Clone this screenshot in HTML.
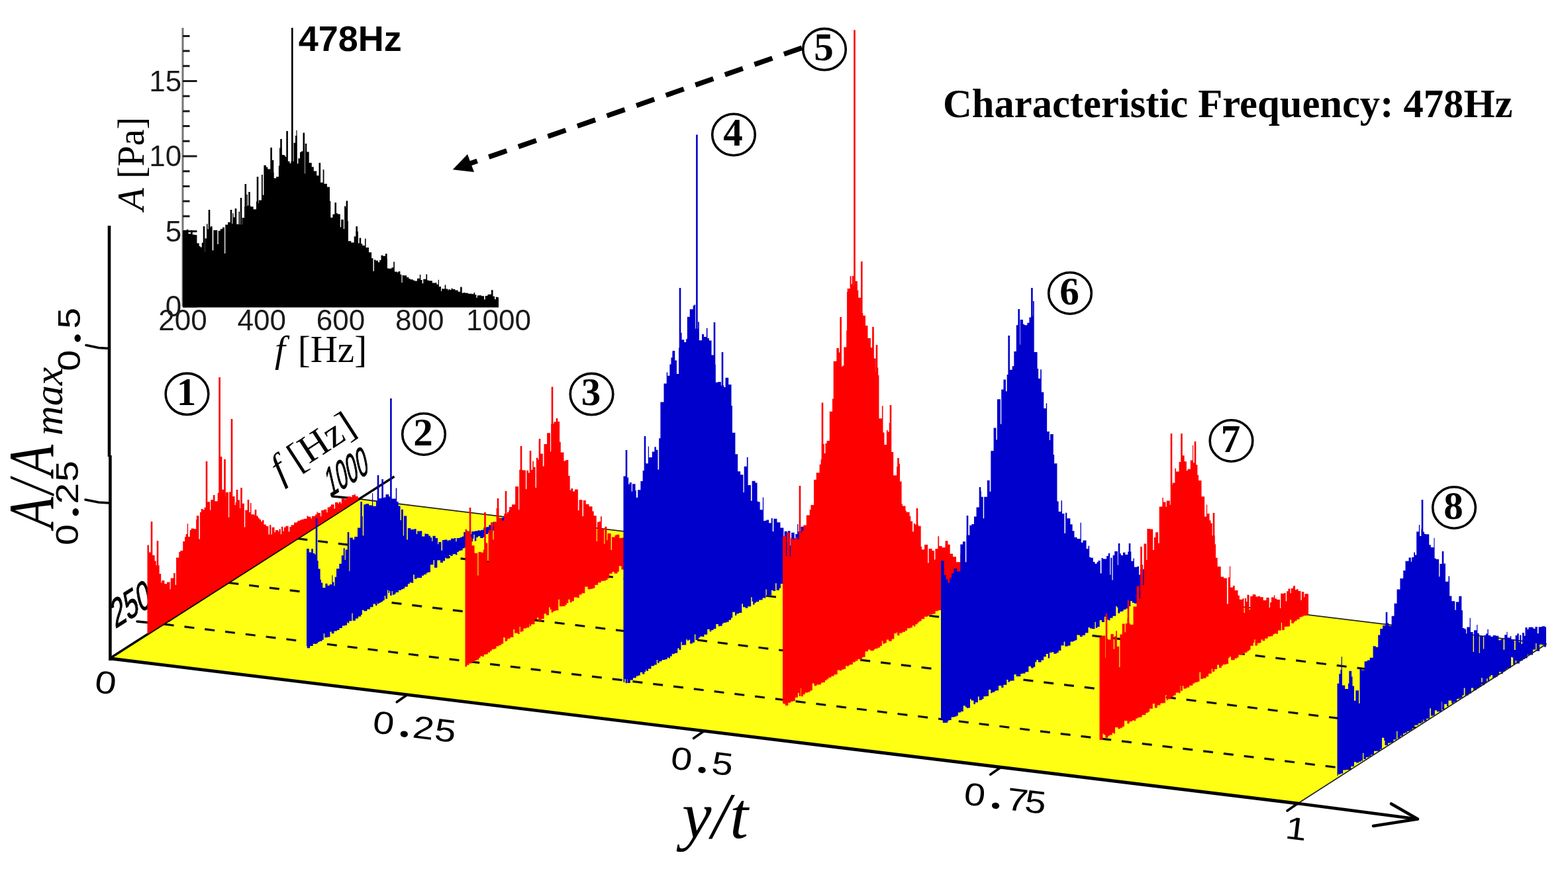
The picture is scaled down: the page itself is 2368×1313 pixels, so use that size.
<!DOCTYPE html>
<html><head><meta charset="utf-8"><title>Characteristic Frequency</title><style>html,body{margin:0;padding:0;background:#fff;}svg{display:block;}</style></head><body>
<svg width="2368" height="1313" viewBox="0 0 2368 1313">
<rect width="2368" height="1313" fill="#fff"/>
<polygon points="167.0,995.0 1960.0,1214.0 2335.5,973 542.5,754.0" fill="#ffff14"/>
<line x1="542.5" y1="754.0" x2="2335.5" y2="973" stroke="#222" stroke-width="1.8"/>
<line x1="247.73" y1="943.18" x2="2040.73" y2="1162.18" stroke="#111" stroke-width="3.2" stroke-dasharray="15 16"/>
<line x1="345.36" y1="880.52" x2="2138.36" y2="1099.53" stroke="#111" stroke-width="3.2" stroke-dasharray="15 16"/>
<line x1="449.38" y1="813.77" x2="2242.38" y2="1032.77" stroke="#111" stroke-width="3.2" stroke-dasharray="15 16"/>
<line x1="167.0" y1="994.0" x2="595.5" y2="720" stroke="#000" stroke-width="3.4"/>
<line x1="247" y1="943" x2="207" y2="939" stroke="#000" stroke-width="3.5" stroke-linecap="round"/>
<line x1="542.5" y1="754" x2="502.5" y2="750" stroke="#000" stroke-width="3.5" stroke-linecap="round"/>
<text transform="matrix(0.80 -0.50 0.40 1.75 498 751.5)" font-family="'Liberation Sans', Arial, sans-serif" font-size="34" fill="#000" stroke="#000" stroke-width="0.6">1000</text>
<text transform="matrix(1.0 -0.63 0.40 1.72 174 950)" font-family="'Liberation Sans', Arial, sans-serif" font-size="34" fill="#000" stroke="#000" stroke-width="0.6">250</text>
<path d="M222.5 958.3 L222.5 823.52 L224.89 823.52 L224.89 834.54 L229.15 834.54 L229.15 839.03 L233.63 839.03 L233.63 847.58 L235.7 847.58 L235.7 854.32 L240.65 854.32 L240.65 867.05 L243.22 867.05 L243.22 880.22 L244.46 880.22 L244.46 877.05 L248.38 877.05 L248.38 882.23 L252.08 882.23 L252.08 879.42 L256.62 879.42 L256.62 890.19 L257.72 890.19 L257.72 873.45 L262.12 873.45 L262.12 866.11 L264.65 866.11 L264.65 883.8 L266.07 883.8 L266.07 842.4 L270.87 842.4 L270.87 870.73 L272.36 870.73 L272.36 831.96 L276.23 831.96 L276.23 818.04 L279.08 818.04 L279.08 811.28 L282.69 811.28 L282.69 791.28 L284.13 791.28 L284.13 810.97 L288.65 810.97 L288.65 798.58 L292.65 798.58 L292.65 799.16 L296.86 799.16 L296.86 779.28 L300.43 779.28 L300.43 814.56 L302 814.56 L302 773.92 L304.45 773.92 L304.45 770.28 L308.63 770.28 L308.63 766.84 L311.25 766.84 L311.25 748.52 L312.78 748.52 L312.78 758.31 L317.1 758.31 L317.1 770.87 L318.28 770.87 L318.28 755.37 L321.88 755.37 L321.88 747.89 L324.47 747.89 L324.47 757.2 L328.67 757.2 L328.67 744.86 L332.7 744.86 L332.7 743.8 L335.14 743.8 L335.14 739.72 L339.85 739.72 L339.85 750.48 L341.02 750.48 L341.02 743.68 L344.99 743.68 L344.99 781.84 L346.14 781.84 L346.14 743.27 L349.34 743.27 L349.34 734.99 L350.76 734.99 L350.76 749.88 L354.53 749.88 L354.53 762.98 L355.74 762.98 L355.74 758.78 L358.98 758.78 L358.98 755.44 L362.18 755.44 L362.18 767.92 L363.78 767.92 L363.78 760.74 L368.89 760.74 L368.89 796.4 L370.2 796.4 L370.2 770.74 L375.3 770.74 L375.3 774.08 L377.96 774.08 L377.96 759.96 L379.51 759.96 L379.51 777.23 L384.16 777.23 L384.16 778.7 L387.21 778.7 L387.21 779.48 L389.72 779.48 L389.72 782.48 L391.71 782.48 L391.71 784.65 L394.09 784.65 L394.09 788.05 L396.02 788.05 L396.02 785.99 L398.5 785.99 L398.5 792.4 L401.85 792.4 L401.85 795.12 L405.53 795.12 L405.53 807.38 L407.07 807.38 L407.07 793.37 L409.42 793.37 L409.42 807.48 L410.73 807.48 L410.73 796.65 L414.51 796.65 L414.51 804.31 L415.88 804.31 L415.88 800.97 L420.07 800.97 L420.07 802.97 L421.48 802.97 L421.48 799.58 L423.89 799.58 L423.89 807.14 L425.05 807.14 L425.05 795.74 L427.28 795.74 L427.28 802.6 L428.91 802.6 L428.91 796.75 L431.37 796.75 L431.37 794.64 L435.65 794.64 L435.65 803.14 L437.34 803.14 L437.34 796.01 L439.63 796.01 L439.63 793.27 L444.06 793.27 L444.06 789.53 L448.47 789.53 L448.47 788.54 L449.6 788.54 L449.6 786.8 L453.14 786.8 L453.14 785.76 L455.22 785.76 L455.22 784.77 L458.78 784.77 L458.78 783.64 L463.42 783.64 L463.42 779.43 L465.44 779.43 L465.44 780.74 L469.56 780.74 L469.56 783.38 L471.07 783.38 L471.07 779.8 L476.14 779.8 L476.14 777.13 L478.45 777.13 L478.45 773.16 L479.76 773.16 L479.76 775 L483.91 775 L483.91 780.36 L485.25 780.36 L485.25 771.1 L489.15 771.1 L489.15 769.66 L493.35 769.66 L493.35 774.31 L494.64 774.31 L494.64 766.42 L497.98 766.42 L497.98 764.94 L499.95 764.94 L499.95 762.31 L504.57 762.31 L504.57 768.44 L506.05 768.44 L506.05 759.1 L508 759.1 L508 758.88 L510.54 758.88 L510.54 760.89 L511.82 760.89 L511.82 758.46 L514.68 758.46 L514.68 760.64 L515.8 760.64 L515.8 753.36 L520.47 753.36 L520.47 754.63 L522.03 754.63 L522.03 752.21 L525.08 752.21 L525.08 750.18 L526.72 750.18 L526.72 750.18 L529.93 750.18 L529.93 751.1 L531.62 751.1 L531.62 747.97 L535.13 747.97 L535.13 746.81 L536.88 746.81 L536.88 749.73 L540.67 749.73 L540.67 751.98 L541.5 751.98 L541.5 754.78 L222.5 958.3 L222.5 958.3 Z" fill="#ff0000"/>
<rect x="227.7" y="788" width="2.6" height="164.15" fill="#ff0000"/>
<rect x="236.7" y="817" width="2.6" height="129.41" fill="#ff0000"/>
<rect x="270.3" y="834" width="2.6" height="90.97" fill="#ff0000"/>
<rect x="280.7" y="807" width="2.6" height="111.34" fill="#ff0000"/>
<rect x="286.7" y="801" width="2.6" height="113.51" fill="#ff0000"/>
<rect x="296.2" y="785" width="2.6" height="123.45" fill="#ff0000"/>
<rect x="303.7" y="769" width="2.6" height="134.66" fill="#ff0000"/>
<rect x="310.7" y="697" width="2.6" height="202.2" fill="#ff0000"/>
<rect x="330.3" y="570" width="2.6" height="316.69" fill="#ff0000"/>
<rect x="332.7" y="690" width="2.6" height="195.16" fill="#ff0000"/>
<rect x="338.2" y="694" width="2.6" height="187.65" fill="#ff0000"/>
<rect x="348.7" y="633" width="2.6" height="241.95" fill="#ff0000"/>
<rect x="356.7" y="740" width="2.6" height="129.85" fill="#ff0000"/>
<rect x="363.2" y="737" width="2.6" height="128.7" fill="#ff0000"/>
<rect x="373.7" y="755" width="2.6" height="104" fill="#ff0000"/>
<rect x="384.7" y="770" width="2.6" height="81.99" fill="#ff0000"/>
<path d="M463 984 L463 829.09 L466.78 829.09 L466.78 834.53 L470.19 834.53 L470.19 829.13 L472.8 829.13 L472.8 836.02 L475.4 836.02 L475.4 837.85 L477.55 837.85 L477.55 847.2 L480.64 847.2 L480.64 859.52 L483.6 859.52 L483.6 875.84 L485 875.84 L485 880.44 L487.28 880.44 L487.28 887.98 L491.37 887.98 L491.37 881.83 L494.51 881.83 L494.51 884.75 L497.72 884.75 L497.72 882.88 L501.35 882.88 L501.35 869.19 L502.47 869.19 L502.47 879.42 L504.42 879.42 L504.42 885.16 L505.65 885.16 L505.65 871.66 L508.05 871.66 L508.05 859.17 L512.3 859.17 L512.3 851.63 L515.81 851.63 L515.81 839.29 L518.73 839.29 L518.73 828.31 L520.67 828.31 L520.67 846.06 L521.79 846.06 L521.79 830.58 L526.74 830.58 L526.74 862.91 L528.33 862.91 L528.33 812.51 L532.84 812.51 L532.84 815.31 L535.21 815.31 L535.21 811.03 L539.99 811.03 L539.99 797.42 L544.75 797.42 L544.75 779.93 L547.76 779.93 L547.76 809.36 L549.24 809.36 L549.24 762.13 L552.28 762.13 L552.28 761.2 L554.49 761.2 L554.49 761.35 L557.21 761.35 L557.21 763.53 L562.01 763.53 L562.01 745.16 L563.18 745.16 L563.18 764.86 L567.94 764.86 L567.94 757.54 L571.33 757.54 L571.33 752.93 L575.82 752.93 L575.82 752.42 L579.51 752.42 L579.51 751.55 L582.5 751.55 L582.5 746.91 L587.28 746.91 L587.28 750.17 L589.38 750.17 L589.38 767.82 L590.56 767.82 L590.56 753.41 L593.66 753.41 L593.66 753.56 L597.71 753.56 L597.71 737.47 L599.28 737.47 L599.28 757.95 L601.6 757.95 L601.6 764.56 L604.54 764.56 L604.54 786.03 L605.95 786.03 L605.95 769.67 L608.82 769.67 L608.82 809.42 L609.95 809.42 L609.95 779.38 L614.24 779.38 L614.24 815.5 L615.84 815.5 L615.84 798.02 L620.23 798.02 L620.23 799.91 L625.3 799.91 L625.3 799.2 L628.67 799.2 L628.67 806.96 L630.2 806.96 L630.2 802.52 L634.51 802.52 L634.51 802.19 L637.28 802.19 L637.28 810.48 L641.41 810.48 L641.41 806.16 L643.02 806.16 L643.02 806.79 L647.23 806.79 L647.23 809.44 L649.99 809.44 L649.99 812.37 L652.22 812.37 L652.22 817.76 L653.46 817.76 L653.46 809.83 L657.71 809.83 L657.71 813.05 L661.07 813.05 L661.07 822.18 L662.3 822.18 L662.3 818.93 L666.51 818.93 L666.51 831.68 L668.02 831.68 L668.02 816.01 L671.01 816.01 L671.01 815.41 L675.82 815.41 L675.82 817.52 L677 817.52 L677 816.26 L680.88 816.26 L680.88 813.64 L685.97 813.64 L685.97 812.96 L688.32 812.96 L688.32 818.24 L689.62 818.24 L689.62 812.94 L694.7 812.94 L694.7 811.82 L697.86 811.82 L697.86 810.48 L700.27 810.48 L700.27 804.09 L705.18 804.09 L705.18 801.84 L706.31 801.84 L706.31 802.86 L711.1 802.86 L711.1 807.04 L712.31 807.04 L712.31 802.89 L717.2 802.89 L717.2 802.18 L721.54 802.18 L721.54 801.21 L724.18 801.21 L724.18 801.65 L726.2 801.65 L726.2 800.65 L730.24 800.65 L730.24 797.32 L734.35 797.32 L734.35 796.13 L738.24 796.13 L738.24 793.29 L742.88 793.29 L742.88 795.41 L744.44 795.41 L744.44 788.48 L749.1 788.48 L749.1 789.35 L750.86 789.35 L750.86 786.11 L752.96 786.11 L752.96 784.3 L757.55 784.3 L757.55 782.35 L760.07 782.35 L760.07 780.7 L762.85 780.7 L762.85 779.79 L767.1 779.79 L767.1 777.7 L771.45 777.7 L771.45 776.61 L774.93 776.61 L774.93 774.84 L777 774.84 L777 778.33 L779 778.33 L779 780.18 L779 779.49 L776.14 779.49 L776.14 780.22 L773.73 780.22 L773.73 778.36 L771.32 778.36 L771.32 771.52 L770.06 771.52 L770.06 771.09 L768.54 771.09 L768.54 785.52 L764.09 785.52 L764.09 782.87 L761.86 782.87 L761.86 790.23 L757.31 790.23 L757.31 793.08 L752.43 793.08 L752.43 798.63 L747.7 798.63 L747.7 801.83 L743.94 801.83 L743.94 802.44 L739.8 802.44 L739.8 804.98 L736.93 804.98 L736.93 806.88 L732 806.88 L732 811.51 L729.73 811.51 L729.73 813.04 L725.25 813.04 L725.25 810.32 L721.75 810.32 L721.75 811.98 L719.28 811.98 L719.28 817.38 L716.76 817.38 L716.76 807.64 L715.41 807.64 L715.41 813.65 L714.02 813.65 L714.02 818.29 L709.36 818.29 L709.36 825.74 L704.63 825.74 L704.63 826.94 L701.67 826.94 L701.67 828.46 L698.62 828.46 L698.62 831.52 L695.66 831.52 L695.66 832.15 L692.8 832.15 L692.8 834.07 L690.33 834.07 L690.33 838.49 L688.3 838.49 L688.3 837.13 L683.63 837.13 L683.63 839.95 L680.3 839.95 L680.3 838.77 L677.98 838.77 L677.98 843.77 L673.36 843.77 L673.36 841.03 L672.06 841.03 L672.06 847.43 L668.84 847.43 L668.84 850.33 L665 850.33 L665 846.41 L660.31 846.41 L660.31 857.63 L655.97 857.63 L655.97 846.37 L654.55 846.37 L654.55 853.17 L649.94 853.17 L649.94 864.4 L646.49 864.4 L646.49 865.41 L643.97 865.41 L643.97 867.95 L640.06 867.95 L640.06 869.82 L637.1 869.82 L637.1 873.07 L633 873.07 L633 873.05 L629.53 873.05 L629.53 874.7 L625.82 874.7 L625.82 868.3 L624.14 868.3 L624.14 880.8 L621.32 880.8 L621.32 880.02 L618.71 880.02 L618.71 882.32 L615.86 882.32 L615.86 886.4 L611.2 886.4 L611.2 889.27 L609.12 889.27 L609.12 890.26 L606.18 890.26 L606.18 891.69 L601.94 891.69 L601.94 895.09 L597.59 895.09 L597.59 897.39 L595.52 897.39 L595.52 898.86 L592.82 898.86 L592.82 892.89 L587.9 892.89 L587.9 895.92 L586.37 895.92 L586.37 891.4 L585.04 891.4 L585.04 904.75 L582.18 904.75 L582.18 900.15 L580.77 900.15 L580.77 907.03 L577.62 907.03 L577.62 909.55 L574.38 909.55 L574.38 910.96 L570.74 910.96 L570.74 908.31 L569.42 908.31 L569.42 915.04 L567.09 915.04 L567.09 912.45 L563.51 912.45 L563.51 917.31 L559.06 917.31 L559.06 920.52 L554.39 920.52 L554.39 923.2 L549.45 923.2 L549.45 921.8 L545.2 921.8 L545.2 931.51 L541.07 931.51 L541.07 934.51 L536.9 934.51 L536.9 937.64 L532.7 937.64 L532.7 926.42 L531.4 926.42 L531.4 938.29 L526.6 938.29 L526.6 939.55 L524.02 939.55 L524.02 944.81 L520.75 944.81 L520.75 945.44 L516.91 945.44 L516.91 948.93 L512.62 948.93 L512.62 951.89 L509.01 951.89 L509.01 953.46 L504.45 953.46 L504.45 957.17 L500.76 957.17 L500.76 954.39 L498.44 954.39 L498.44 962.44 L494.33 962.44 L494.33 963.18 L490.16 963.18 L490.16 957.15 L488.77 957.15 L488.77 966.67 L486.4 966.67 L486.4 968.67 L482.48 968.67 L482.48 970.04 L480.14 970.04 L480.14 971.76 L475.59 971.76 L475.59 972.62 L472.71 972.62 L472.71 975.96 L468.13 975.96 L468.13 979.23 L463.73 979.23 L463.73 976.15 L463 976.15 L463 984 Z" fill="#0000cc"/>
<rect x="476.7" y="783" width="2.6" height="189.33" fill="#0000cc"/>
<rect x="524.7" y="804" width="2.6" height="137.37" fill="#0000cc"/>
<rect x="544.3" y="758" width="2.6" height="170.72" fill="#0000cc"/>
<rect x="569.7" y="718" width="2.6" height="194.34" fill="#0000cc"/>
<rect x="576.3" y="724" width="2.6" height="184.08" fill="#0000cc"/>
<rect x="589.1" y="602" width="2.6" height="297.83" fill="#0000cc"/>
<path d="M702.5 1009 L702.5 799.71 L704.89 799.71 L704.89 803.3 L708.76 803.3 L708.76 811.82 L712.66 811.82 L712.66 824.27 L716.56 824.27 L716.56 835.87 L721.29 835.87 L721.29 869.42 L722.48 869.42 L722.48 833.92 L726.61 833.92 L726.61 834.86 L729.94 834.86 L729.94 830.46 L732.33 830.46 L732.33 820.41 L736.26 820.41 L736.26 849.79 L737.6 849.79 L737.6 801.04 L741.15 801.04 L741.15 789.27 L744.45 789.27 L744.45 815.29 L745.69 815.29 L745.69 789.06 L749.63 789.06 L749.63 768.06 L753.34 768.06 L753.34 782.48 L757.9 782.48 L757.9 786.46 L761.32 786.46 L761.32 776.2 L766.02 776.2 L766.02 773.63 L769.19 773.63 L769.19 766.01 L773.11 766.01 L773.11 762.29 L778.14 762.29 L778.14 734.93 L783.09 734.93 L783.09 770.1 L784.24 770.1 L784.24 709.77 L788.98 709.77 L788.98 710.49 L793.91 710.49 L793.91 739.02 L795.32 739.02 L795.32 710.67 L797.95 710.67 L797.95 714.57 L800.61 714.57 L800.61 725.68 L801.98 725.68 L801.98 709.94 L804.28 709.94 L804.28 696.82 L805.89 696.82 L805.89 705.72 L808.59 705.72 L808.59 736.99 L809.89 736.99 L809.89 691.84 L812.46 691.84 L812.46 694.44 L815.86 694.44 L815.86 685.38 L819.83 685.38 L819.83 704.62 L821.49 704.62 L821.49 671.09 L826.09 671.09 L826.09 654.27 L830.95 654.27 L830.95 682.33 L832.2 682.33 L832.2 640.44 L836.37 640.44 L836.37 637.42 L840.55 637.42 L840.55 636.98 L845.14 636.98 L845.14 667.71 L846.79 667.71 L846.79 683.62 L851.48 683.62 L851.48 696.56 L853.86 696.56 L853.86 695.23 L857.7 695.23 L857.7 719.06 L860.71 719.06 L860.71 740.48 L862.45 740.48 L862.45 738.12 L865.17 738.12 L865.17 742.48 L867.99 742.48 L867.99 739.49 L872.87 739.49 L872.87 771.14 L874.5 771.14 L874.5 755.18 L879.49 755.18 L879.49 780.09 L880.94 780.09 L880.94 755.97 L884.78 755.97 L884.78 761.79 L889.5 761.79 L889.5 765.23 L894.49 765.23 L894.49 772.57 L896.75 772.57 L896.75 779.16 L900.75 779.16 L900.75 817.95 L901.97 817.95 L901.97 788.68 L904.62 788.68 L904.62 788.09 L906.97 788.09 L906.97 780.26 L908.74 780.26 L908.74 799.23 L912.21 799.23 L912.21 821.78 L913.39 821.78 L913.39 795.87 L916.39 795.87 L916.39 816.19 L917.53 816.19 L917.53 806.12 L922.63 806.12 L922.63 830.88 L924.05 830.88 L924.05 811.6 L928.63 811.6 L928.63 808.65 L930.73 808.65 L930.73 807.68 L935.37 807.68 L935.37 813.1 L938.5 813.1 L938.5 812.55 L943.53 812.55 L943.53 814.94 L947.83 814.94 L947.83 817.05 L951.94 817.05 L951.94 812.11 L954.76 812.11 L954.76 824.72 L956.47 824.72 L956.47 814.57 L961.24 814.57 L961.24 817.44 L963.82 817.44 L963.82 821.48 L965.04 821.48 L965.04 815.52 L969.14 815.52 L969.14 811.48 L974.19 811.48 L974.19 815.25 L977.52 815.25 L977.52 818.05 L979.03 818.05 L979.03 812.05 L982.22 812.05 L982.22 811.52 L984.18 811.52 L984.18 808.38 L985.32 808.38 L985.32 812.07 L988.31 812.07 L988.31 817.47 L989.69 817.47 L989.69 811.92 L991.86 811.92 L991.86 810.94 L994.96 810.94 L994.96 810.43 L999.73 810.43 L999.73 808.25 L1001.41 808.25 L1001.41 808.68 L1005.36 808.68 L1005.36 807.45 L1007.9 807.45 L1007.9 806.65 L1009.59 806.65 L1009.59 808.59 L1011.56 808.59 L1011.56 806.59 L1014.38 806.59 L1014.38 808.17 L1015.83 808.17 L1015.83 805.97 L1019 805.97 L1019 812.77 L1019 811.67 L1014.35 811.67 L1014.35 815.25 L1010.49 815.25 L1010.49 817.28 L1007.62 817.28 L1007.62 820.08 L1004.89 820.08 L1004.89 816.57 L1001.8 816.57 L1001.8 814 L1000.21 814 L1000.21 823.35 L997.48 823.35 L997.48 826.32 L994.97 826.32 L994.97 828.02 L991.76 828.02 L991.76 825.03 L987.28 825.03 L987.28 833.31 L983.6 833.31 L983.6 833.6 L978.9 833.6 L978.9 835.81 L974.64 835.81 L974.64 833.46 L971.92 833.46 L971.92 840.54 L966.96 840.54 L966.96 844.39 L964.48 844.39 L964.48 845.35 L960.74 845.35 L960.74 848.31 L956.06 848.31 L956.06 847.95 L951.6 847.95 L951.6 855.37 L946.82 855.37 L946.82 852.24 L942.71 852.24 L942.71 860.39 L938.46 860.39 L938.46 855.32 L934.81 855.32 L934.81 863.86 L932.49 863.86 L932.49 866.54 L927.57 866.54 L927.57 863.88 L924.58 863.88 L924.58 866.66 L920.27 866.66 L920.27 873.76 L917.57 873.76 L917.57 876.14 L914.96 876.14 L914.96 877.56 L911.77 877.56 L911.77 877.73 L907.7 877.73 L907.7 880.15 L903.14 880.15 L903.14 883.68 L898.38 883.68 L898.38 888.68 L895.21 888.68 L895.21 889.84 L891.97 889.84 L891.97 890.13 L887.7 890.13 L887.7 886.47 L883.35 886.47 L883.35 896.37 L878.52 896.37 L878.52 898.4 L874.75 898.4 L874.75 903.27 L871.63 903.27 L871.63 902.48 L866.81 902.48 L866.81 908.19 L863.46 908.19 L863.46 910.28 L860.65 910.28 L860.65 905.87 L855.86 905.87 L855.86 913.73 L853.65 913.73 L853.65 916.12 L849.33 916.12 L849.33 916.27 L844.89 916.27 L844.89 905.82 L843.34 905.82 L843.34 922.14 L838.98 922.14 L838.98 923.09 L836.94 923.09 L836.94 923.85 L834.4 923.85 L834.4 920.6 L832.3 920.6 L832.3 921.16 L830.7 921.16 L830.7 917.38 L829.06 917.38 L829.06 929.52 L824.93 929.52 L824.93 927.13 L821.66 927.13 L821.66 934.91 L817.72 934.91 L817.72 938.19 L813.19 938.19 L813.19 933.01 L811.17 933.01 L811.17 935.99 L807.44 935.99 L807.44 943.14 L802.62 943.14 L802.62 943 L799.33 943 L799.33 948.18 L795.11 948.18 L795.11 949.59 L790.52 949.59 L790.52 953.67 L786.42 953.67 L786.42 946.98 L784.62 946.98 L784.62 958.1 L781.93 958.1 L781.93 956.54 L777.03 956.54 L777.03 951.03 L775.39 951.03 L775.39 962.86 L770.57 962.86 L770.57 965.02 L766.44 965.02 L766.44 968.15 L763.34 968.15 L763.34 963.31 L760.19 963.31 L760.19 972.83 L756.98 972.83 L756.98 974.89 L752.86 974.89 L752.86 976.2 L749.6 976.2 L749.6 979.9 L746.88 979.9 L746.88 980.88 L742.69 980.88 L742.69 983.6 L740.08 983.6 L740.08 985.77 L736.76 985.77 L736.76 988.49 L732.96 988.49 L732.96 988.91 L730.77 988.91 L730.77 992.1 L728.01 992.1 L728.01 991.21 L725.53 991.21 L725.53 993.92 L723.28 993.92 L723.28 996.81 L720.41 996.81 L720.41 997.79 L717.43 997.79 L717.43 999.92 L712.44 999.92 L712.44 1002.34 L708.32 1002.34 L708.32 1004.67 L705.01 1004.67 L705.01 1007.23 L702.5 1007.23 L702.5 1009 Z" fill="#ff0000"/>
<rect x="708.7" y="767" width="2.6" height="235.35" fill="#ff0000"/>
<rect x="731.2" y="774" width="2.6" height="214.4" fill="#ff0000"/>
<rect x="750.7" y="753" width="2.6" height="223.31" fill="#ff0000"/>
<rect x="762.7" y="742" width="2.6" height="226.87" fill="#ff0000"/>
<rect x="785.7" y="674" width="2.6" height="280.61" fill="#ff0000"/>
<rect x="799.7" y="681" width="2.6" height="264.93" fill="#ff0000"/>
<rect x="813.7" y="663" width="2.6" height="274.25" fill="#ff0000"/>
<rect x="832.7" y="584.5" width="2.6" height="340.97" fill="#ff0000"/>
<rect x="839.7" y="632" width="2.6" height="289.13" fill="#ff0000"/>
<rect x="855.7" y="695" width="2.6" height="216.21" fill="#ff0000"/>
<path d="M941.5 1037 L941.5 719.46 L946.55 719.46 L946.55 721.51 L949.16 721.51 L949.16 731.66 L950.68 731.66 L950.68 728.97 L953.83 728.97 L953.83 742.53 L954.98 742.53 L954.98 731.33 L959.55 731.33 L959.55 740.97 L960.81 740.97 L960.81 751.7 L963.14 751.7 L963.14 740.23 L967.41 740.23 L967.41 727 L970.65 727 L970.65 711.03 L973.37 711.03 L973.37 686.22 L974.88 686.22 L974.88 700.29 L978.77 700.29 L978.77 674.59 L980.03 674.59 L980.03 691 L984.78 691 L984.78 682.59 L988.39 682.59 L988.39 675.33 L990.78 675.33 L990.78 679.8 L993.51 679.8 L993.51 709.59 L995.18 709.59 L995.18 662.2 L997.39 662.2 L997.39 607.39 L1002.49 607.39 L1002.49 579.52 L1006.68 579.52 L1006.68 562.39 L1008.17 562.39 L1008.17 567.74 L1011.35 567.74 L1011.35 550.62 L1013.47 550.62 L1013.47 540.24 L1015.54 540.24 L1015.54 529.99 L1019.26 529.99 L1019.26 544.44 L1021.92 544.44 L1021.92 565.02 L1025.05 565.02 L1025.05 525.38 L1028.03 525.38 L1028.03 502.7 L1029.61 502.7 L1029.61 513.24 L1033.25 513.24 L1033.25 516.94 L1036.16 516.94 L1036.16 512.22 L1037.83 512.22 L1037.83 478.73 L1041.72 478.73 L1041.72 467.18 L1046.66 467.18 L1046.66 461.71 L1048.2 461.71 L1048.2 460.56 L1050.21 460.56 L1050.21 496.51 L1054.14 496.51 L1054.14 486.21 L1055.84 486.21 L1055.84 514.22 L1060.08 514.22 L1060.08 505.02 L1063.02 505.02 L1063.02 509.06 L1066.84 509.06 L1066.84 495.81 L1068.5 495.81 L1068.5 511.04 L1070.86 511.04 L1070.86 514.47 L1074.52 514.47 L1074.52 536.41 L1079.43 536.41 L1079.43 550.64 L1080.77 550.64 L1080.77 577.77 L1084.16 577.77 L1084.16 576.92 L1088.84 576.92 L1088.84 582.54 L1093.26 582.54 L1093.26 585.01 L1095.54 585.01 L1095.54 570.82 L1100.21 570.82 L1100.21 580.88 L1104.53 580.88 L1104.53 612.98 L1105.94 612.98 L1105.94 653.7 L1110.4 653.7 L1110.4 686.21 L1114.17 686.21 L1114.17 712.2 L1118.19 712.2 L1118.19 717.18 L1122.43 717.18 L1122.43 744.02 L1123.73 744.02 L1123.73 704.86 L1127.86 704.86 L1127.86 690.72 L1129.61 690.72 L1129.61 733.11 L1133.98 733.11 L1133.98 756.86 L1135.63 756.86 L1135.63 726.83 L1140.6 726.83 L1140.6 729.38 L1143.56 729.38 L1143.56 757.47 L1144.74 757.47 L1144.74 758.17 L1147.66 758.17 L1147.66 770.27 L1151.85 770.27 L1151.85 751.61 L1153.18 751.61 L1153.18 787.04 L1155.41 787.04 L1155.41 786.58 L1157.69 786.58 L1157.69 785.42 L1161.15 785.42 L1161.15 790.31 L1164.75 790.31 L1164.75 783.08 L1166.77 783.08 L1166.77 803.08 L1168.39 803.08 L1168.39 783.71 L1173.44 783.71 L1173.44 789.14 L1178.44 789.14 L1178.44 797.56 L1183.36 797.56 L1183.36 826.86 L1184.64 826.86 L1184.64 802.77 L1188.66 802.77 L1188.66 819.2 L1189.78 819.2 L1189.78 802.37 L1193.44 802.37 L1193.44 824.42 L1195.16 824.42 L1195.16 804.87 L1199.7 804.87 L1199.7 813.41 L1201.26 813.41 L1201.26 806.88 L1204.15 806.88 L1204.15 792.08 L1205.4 792.08 L1205.4 803.11 L1209.52 803.11 L1209.52 795.83 L1214.16 795.83 L1214.16 804.03 L1217.04 804.03 L1217.04 816.47 L1218.52 816.47 L1218.52 798.58 L1222.97 798.58 L1222.97 796.86 L1225.73 796.86 L1225.73 797.27 L1230.79 797.27 L1230.79 808.64 L1231.97 808.64 L1231.97 795.93 L1235.79 795.93 L1235.79 797.52 L1239.23 797.52 L1239.23 805.91 L1240.42 805.91 L1240.42 797.59 L1243.11 797.59 L1243.11 805.99 L1244.45 805.99 L1244.45 804.44 L1249.01 804.44 L1249.01 793.32 L1250.96 793.32 L1250.96 806.61 L1252.76 806.61 L1252.76 796.06 L1257.43 796.06 L1257.43 796.67 L1258 796.67 L1258 840.77 L1258 840.62 L1254.9 840.62 L1254.9 837.76 L1252.83 837.76 L1252.83 843.48 L1248.87 843.48 L1248.87 836.74 L1247.41 836.74 L1247.41 846.03 L1244.2 846.03 L1244.2 850.81 L1240.01 850.81 L1240.01 844.65 L1235.62 844.65 L1235.62 852.78 L1233.03 852.78 L1233.03 854.29 L1230.76 854.29 L1230.76 857.39 L1227.86 857.39 L1227.86 859.51 L1224.13 859.51 L1224.13 862.2 L1219.93 862.2 L1219.93 862.57 L1215.69 862.57 L1215.69 860.43 L1211.11 860.43 L1211.11 864.33 L1206.38 864.33 L1206.38 864.78 L1203.75 864.78 L1203.75 872.78 L1201.05 872.78 L1201.05 863.75 L1199.43 863.75 L1199.43 876.02 L1194.7 876.02 L1194.7 878.25 L1191.31 878.25 L1191.31 880.99 L1187.13 880.99 L1187.13 883.7 L1182.67 883.7 L1182.67 882.05 L1178.91 882.05 L1178.91 888.85 L1176.82 888.85 L1176.82 891.76 L1172.61 891.76 L1172.61 881.32 L1171.13 881.32 L1171.13 893.05 L1167.51 893.05 L1167.51 891.86 L1165.14 891.86 L1165.14 899.62 L1160.84 899.62 L1160.84 900.66 L1157.79 900.66 L1157.79 890.53 L1156.49 890.53 L1156.49 903.43 L1151.56 903.43 L1151.56 906.42 L1149 906.42 L1149 906.46 L1146.23 906.46 L1146.23 909.17 L1141.92 909.17 L1141.92 910.87 L1139.61 910.87 L1139.61 913.59 L1137.11 913.59 L1137.11 908.74 L1135.66 908.74 L1135.66 902.23 L1134.19 902.23 L1134.19 916.31 L1129.38 916.31 L1129.38 918.66 L1125.58 918.66 L1125.58 917.15 L1122.02 917.15 L1122.02 912.28 L1120.29 912.28 L1120.29 925.98 L1115.91 925.98 L1115.91 927.36 L1112.26 927.36 L1112.26 929.96 L1109.99 929.96 L1109.99 924.87 L1106.27 924.87 L1106.27 933.41 L1104.07 933.41 L1104.07 936.82 L1100.67 936.82 L1100.67 939.65 L1097.08 939.65 L1097.08 940.64 L1093.15 940.64 L1093.15 941.36 L1090.63 941.36 L1090.63 945.65 L1087.2 945.65 L1087.2 946.24 L1084.89 946.24 L1084.89 943.05 L1081.33 943.05 L1081.33 949.94 L1077.58 949.94 L1077.58 952.12 L1074.24 952.12 L1074.24 954.32 L1071.75 954.32 L1071.75 950.7 L1068.26 950.7 L1068.26 958.84 L1063.37 958.84 L1063.37 962.06 L1060.26 962.06 L1060.26 961.56 L1057.35 961.56 L1057.35 963.23 L1055.25 963.23 L1055.25 965.66 L1052.84 965.66 L1052.84 967 L1050.36 967 L1050.36 958.43 L1048.96 958.43 L1048.96 970.87 L1045.74 970.87 L1045.74 972.47 L1042.12 972.47 L1042.12 966.56 L1040.41 966.56 L1040.41 967.85 L1037.76 967.85 L1037.76 965.6 L1036.19 965.6 L1036.19 974.4 L1031.84 974.4 L1031.84 974.69 L1029.75 974.69 L1029.75 969.72 L1028.19 969.72 L1028.19 979.57 L1023.28 979.57 L1023.28 986.86 L1018.88 986.86 L1018.88 987.87 L1014.79 987.87 L1014.79 991.41 L1011.97 991.41 L1011.97 994.49 L1009.9 994.49 L1009.9 993.45 L1007.74 993.45 L1007.74 996.27 L1004.2 996.27 L1004.2 997.1 L999.57 997.1 L999.57 999.3 L995.66 999.3 L995.66 1001.81 L993.03 1001.81 L993.03 997.11 L991.74 997.11 L991.74 1004.46 L988.02 1004.46 L988.02 1006.18 L983.39 1006.18 L983.39 1010.55 L978.95 1010.55 L978.95 1013.94 L976.48 1013.94 L976.48 1011.96 L973.4 1011.96 L973.4 1018.4 L970.14 1018.4 L970.14 1015.85 L966.8 1015.85 L966.8 1020.57 L963.88 1020.57 L963.88 1021.54 L960.71 1021.54 L960.71 1024.22 L955.97 1024.22 L955.97 1027.56 L951.77 1027.56 L951.77 1032 L947.73 1032 L947.73 1025.91 L943.32 1025.91 L943.32 1030.63 L941.5 1030.63 L941.5 1037 Z" fill="#0000cc"/>
<rect x="944.7" y="680" width="2.6" height="352.21" fill="#0000cc"/>
<rect x="972.7" y="659" width="2.6" height="355.85" fill="#0000cc"/>
<rect x="1007.7" y="570" width="2.6" height="423.15" fill="#0000cc"/>
<rect x="1015.7" y="532" width="2.6" height="456.19" fill="#0000cc"/>
<rect x="1025.7" y="435" width="2.6" height="546.99" fill="#0000cc"/>
<rect x="1051.1" y="203.5" width="2.6" height="762.74" fill="#0000cc"/>
<rect x="1077.7" y="487" width="2.6" height="462.75" fill="#0000cc"/>
<rect x="1089.7" y="532" width="2.6" height="410.31" fill="#0000cc"/>
<path d="M1182 1070 L1182 809.87 L1186.99 809.87 L1186.99 840.14 L1188.32 840.14 L1188.32 804.62 L1192.82 804.62 L1192.82 841.07 L1194.04 841.07 L1194.04 812.73 L1196.34 812.73 L1196.34 814.83 L1201.02 814.83 L1201.02 811.91 L1204.19 811.91 L1204.19 815 L1207.42 815 L1207.42 804.62 L1211.06 804.62 L1211.06 801.81 L1213.3 801.81 L1213.3 793.47 L1217.78 793.47 L1217.78 778.6 L1222.66 778.6 L1222.66 770.2 L1224.45 770.2 L1224.45 762.88 L1229.06 762.88 L1229.06 724.79 L1232.74 724.79 L1232.74 714.27 L1237.58 714.27 L1237.58 701.67 L1239.63 701.67 L1239.63 694.14 L1240.83 694.14 L1240.83 670.75 L1244.75 670.75 L1244.75 685.03 L1246.42 685.03 L1246.42 670.02 L1248.57 670.02 L1248.57 665.99 L1252.79 665.99 L1252.79 621.85 L1257.01 621.85 L1257.01 602.59 L1258.7 602.59 L1258.7 545.87 L1263.36 545.87 L1263.36 526.11 L1266.96 526.11 L1266.96 532.52 L1270.73 532.52 L1270.73 553.91 L1272.17 553.91 L1272.17 552.52 L1274.39 552.52 L1274.39 524.61 L1278.2 524.61 L1278.2 499.5 L1279.69 499.5 L1279.69 436.02 L1283.65 436.02 L1283.65 417.32 L1285.6 417.32 L1285.6 429.36 L1286.94 429.36 L1286.94 417.1 L1289.13 417.1 L1289.13 431.59 L1290.39 431.59 L1290.39 424.7 L1294.87 424.7 L1294.87 438.49 L1296.32 438.49 L1296.32 449.72 L1299.94 449.72 L1299.94 472.31 L1301.18 472.31 L1301.18 473.05 L1303.33 473.05 L1303.33 476.68 L1307.01 476.68 L1307.01 491.91 L1310.51 491.91 L1310.51 510.94 L1314.91 510.94 L1314.91 525.24 L1317.71 525.24 L1317.71 501.1 L1319.35 501.1 L1319.35 541.5 L1322.74 541.5 L1322.74 562.02 L1324.23 562.02 L1324.23 555.41 L1326.25 555.41 L1326.25 567.09 L1327.47 567.09 L1327.47 632.13 L1331.94 632.13 L1331.94 613.28 L1333.52 613.28 L1333.52 653.39 L1335.48 653.39 L1335.48 672.02 L1338.97 672.02 L1338.97 649.93 L1340.64 649.93 L1340.64 652.39 L1342.77 652.39 L1342.77 638.99 L1344.18 638.99 L1344.18 683.09 L1349.21 683.09 L1349.21 718.16 L1354.21 718.16 L1354.21 704.96 L1356.64 704.96 L1356.64 700.74 L1359.02 700.74 L1359.02 727.49 L1361.64 727.49 L1361.64 761.49 L1362.92 761.49 L1362.92 764.46 L1367.49 764.46 L1367.49 771.57 L1368.75 771.57 L1368.75 773.83 L1373.65 773.83 L1373.65 779.85 L1375.25 779.85 L1375.25 787.56 L1378.08 787.56 L1378.08 803.32 L1379.81 803.32 L1379.81 790.8 L1381.75 790.8 L1381.75 792.46 L1386.84 792.46 L1386.84 794.66 L1390.71 794.66 L1390.71 825.87 L1392.1 825.87 L1392.1 830.22 L1396.12 830.22 L1396.12 822.94 L1401.18 822.94 L1401.18 850.49 L1402.64 850.49 L1402.64 829 L1407.54 829 L1407.54 832.09 L1410.96 832.09 L1410.96 845.48 L1412.38 845.48 L1412.38 829.28 L1416.4 829.28 L1416.4 810.18 L1418.13 810.18 L1418.13 824.9 L1422.55 824.9 L1422.55 827.31 L1427.53 827.31 L1427.53 817.36 L1431.5 817.36 L1431.5 822.87 L1432.62 822.87 L1432.62 822.65 L1434.72 822.65 L1434.72 836.71 L1439.16 836.71 L1439.16 841.15 L1444.1 841.15 L1444.1 849.13 L1447.08 849.13 L1447.08 849.2 L1450.32 849.2 L1450.32 837.35 L1451.44 837.35 L1451.44 850.35 L1454.49 850.35 L1454.49 853.29 L1456.15 853.29 L1456.15 848.89 L1460.51 848.89 L1460.51 851.03 L1465.59 851.03 L1465.59 855.87 L1466.89 855.87 L1466.89 852.99 L1470.7 852.99 L1470.7 850.59 L1472.46 850.59 L1472.46 856.32 L1475.12 856.32 L1475.12 860.23 L1476.25 860.23 L1476.25 851.95 L1480.05 851.95 L1480.05 863.13 L1481.57 863.13 L1481.57 855.06 L1484.52 855.06 L1484.52 864.49 L1485.75 864.49 L1485.75 855.75 L1489.71 855.75 L1489.71 861.84 L1490.96 861.84 L1490.96 858.42 L1493.69 858.42 L1493.69 859.73 L1498 859.73 L1498 873.13 L1498 871.74 L1493.77 871.74 L1493.77 876.48 L1490.04 876.48 L1490.04 878.9 L1485.25 878.9 L1485.25 879.5 L1482.66 879.5 L1482.66 870.6 L1481.37 870.6 L1481.37 882.37 L1478.11 882.37 L1478.11 886.77 L1474.93 886.77 L1474.93 885.65 L1471.07 885.65 L1471.07 890.72 L1468.89 890.72 L1468.89 891.69 L1464.71 891.69 L1464.71 889.52 L1462.15 889.52 L1462.15 894 L1458.02 894 L1458.02 890.17 L1454.37 890.17 L1454.37 899.53 L1451.99 899.53 L1451.99 903 L1449.87 903 L1449.87 904.21 L1446.78 904.21 L1446.78 889.49 L1445.33 889.49 L1445.33 904.09 L1442.5 904.09 L1442.5 908.78 L1440.07 908.78 L1440.07 897.9 L1438.32 897.9 L1438.32 911.56 L1434.7 911.56 L1434.7 913.51 L1431.67 913.51 L1431.67 899.74 L1430.05 899.74 L1430.05 914.81 L1427.34 914.81 L1427.34 915.46 L1422.81 915.46 L1422.81 905.29 L1421.49 905.29 L1421.49 922.07 L1416.95 922.07 L1416.95 923.13 L1412.64 923.13 L1412.64 927.61 L1408.32 927.61 L1408.32 928.58 L1403.4 928.58 L1403.4 930.45 L1400.99 930.45 L1400.99 931.69 L1396.13 931.69 L1396.13 935.24 L1391.56 935.24 L1391.56 938.57 L1388.31 938.57 L1388.31 940.21 L1385.52 940.21 L1385.52 943.19 L1382.38 943.19 L1382.38 946.51 L1380.18 946.51 L1380.18 945.04 L1377.86 945.04 L1377.86 948.25 L1374.79 948.25 L1374.79 949.16 L1370.14 949.16 L1370.14 952.66 L1367.11 952.66 L1367.11 954.84 L1362.88 954.84 L1362.88 956.47 L1358.34 956.47 L1358.34 960.36 L1355.59 960.36 L1355.59 954.95 L1354.24 954.95 L1354.24 956.9 L1350.37 956.9 L1350.37 965.41 L1346.68 965.41 L1346.68 968.84 L1342.19 968.84 L1342.19 966.47 L1338.85 966.47 L1338.85 971.62 L1336.37 971.62 L1336.37 972.62 L1333.2 972.62 L1333.2 968.34 L1331.93 968.34 L1331.93 976.09 L1329.11 976.09 L1329.11 978.43 L1325.41 978.43 L1325.41 980.07 L1321.44 980.07 L1321.44 981.23 L1319.03 981.23 L1319.03 983.37 L1314.39 983.37 L1314.39 981.53 L1311.06 981.53 L1311.06 984.14 L1306.61 984.14 L1306.61 992.76 L1301.86 992.76 L1301.86 996.47 L1298.07 996.47 L1298.07 995.79 L1295.45 995.79 L1295.45 998.59 L1291.05 998.59 L1291.05 1000.23 L1287.95 1000.23 L1287.95 1004 L1284.13 1004 L1284.13 1004.81 L1281.44 1004.81 L1281.44 1006.07 L1277.25 1006.07 L1277.25 1010.7 L1273.65 1010.7 L1273.65 1011.72 L1269.1 1011.72 L1269.1 1012.57 L1264.67 1012.57 L1264.67 1018.88 L1262.14 1018.88 L1262.14 1019.05 L1259.72 1019.05 L1259.72 1021.4 L1255.38 1021.4 L1255.38 1023.87 L1251.15 1023.87 L1251.15 1026.34 L1248.39 1026.34 L1248.39 1028.03 L1245.96 1028.03 L1245.96 1031.07 L1242.56 1031.07 L1242.56 1031.51 L1239.97 1031.51 L1239.97 1034.34 L1237.34 1034.34 L1237.34 1034.59 L1233.36 1034.59 L1233.36 1036.25 L1229.55 1036.25 L1229.55 1032.52 L1226.79 1032.52 L1226.79 1043.37 L1223.62 1043.37 L1223.62 1045.5 L1220.39 1045.5 L1220.39 1046.4 L1215.65 1046.4 L1215.65 1049.14 L1212.81 1049.14 L1212.81 1052.14 L1209.92 1052.14 L1209.92 1040.02 L1208.17 1040.02 L1208.17 1046.94 L1204.92 1046.94 L1204.92 1053.73 L1200.95 1053.73 L1200.95 1059.17 L1197.59 1059.17 L1197.59 1059.91 L1194.16 1059.91 L1194.16 1061.83 L1190.29 1061.83 L1190.29 1066.05 L1185.99 1066.05 L1185.99 1063.56 L1182.83 1063.56 L1182.83 1062.27 L1182 1062.27 L1182 1070 Z" fill="#ff0000"/>
<rect x="1206.7" y="734" width="2.6" height="317.8" fill="#ff0000"/>
<rect x="1240.7" y="608.4" width="2.6" height="422.22" fill="#ff0000"/>
<rect x="1268.4" y="479" width="2.6" height="534.36" fill="#ff0000"/>
<rect x="1279.1" y="441" width="2.6" height="565.7" fill="#ff0000"/>
<rect x="1289.2" y="45.3" width="2.6" height="955.1" fill="#ff0000"/>
<rect x="1300" y="395" width="2.6" height="598.68" fill="#ff0000"/>
<rect x="1317.2" y="494" width="2.6" height="488.96" fill="#ff0000"/>
<rect x="1322.7" y="521" width="2.6" height="458.53" fill="#ff0000"/>
<rect x="1343.7" y="612" width="2.6" height="354.45" fill="#ff0000"/>
<rect x="1355.2" y="692" width="2.6" height="267.29" fill="#ff0000"/>
<rect x="1383.7" y="768" width="2.6" height="173.53" fill="#ff0000"/>
<path d="M1421 1097 L1421 847.34 L1425.73 847.34 L1425.73 868.85 L1428.65 868.85 L1428.65 875.43 L1431.64 875.43 L1431.64 880.68 L1434.03 880.68 L1434.03 872.92 L1437.08 872.92 L1437.08 866.31 L1440.47 866.31 L1440.47 858.94 L1445.33 858.94 L1445.33 863.44 L1450.33 863.44 L1450.33 822.42 L1453.93 822.42 L1453.93 818.28 L1457.85 818.28 L1457.85 850.3 L1459.52 850.3 L1459.52 808.55 L1464.26 808.55 L1464.26 793.74 L1467.44 793.74 L1467.44 792.12 L1470.97 792.12 L1470.97 780.42 L1474.54 780.42 L1474.54 766.53 L1479.54 766.53 L1479.54 742.36 L1481.86 742.36 L1481.86 750.68 L1484.71 750.68 L1484.71 783.29 L1486.15 783.29 L1486.15 750.85 L1490.84 750.85 L1490.84 725.87 L1494.63 725.87 L1494.63 742.74 L1496.33 742.74 L1496.33 681.23 L1500.57 681.23 L1500.57 646.47 L1504.36 646.47 L1504.36 664.56 L1505.9 664.56 L1505.9 603.32 L1510.95 603.32 L1510.95 640.69 L1512.22 640.69 L1512.22 588.52 L1515.46 588.52 L1515.46 573.57 L1518.96 573.57 L1518.96 591.13 L1520.66 591.13 L1520.66 566.01 L1523.37 566.01 L1523.37 584.38 L1524.55 584.38 L1524.55 558.86 L1528.71 558.86 L1528.71 553.27 L1531.31 553.27 L1531.31 531.12 L1534.79 531.12 L1534.79 491.25 L1539.39 491.25 L1539.39 520.79 L1540.61 520.79 L1540.61 482.99 L1544.96 482.99 L1544.96 489.86 L1547.04 489.86 L1547.04 491.19 L1551.36 491.19 L1551.36 487.74 L1554.4 487.74 L1554.4 479.61 L1557.4 479.61 L1557.4 477.11 L1560.06 477.11 L1560.06 454.96 L1561.71 454.96 L1561.71 531.96 L1566.56 531.96 L1566.56 557.09 L1568.14 557.09 L1568.14 571.91 L1571.18 571.91 L1571.18 558.17 L1572.86 558.17 L1572.86 592.49 L1576.29 592.49 L1576.29 617.01 L1579.73 617.01 L1579.73 609.13 L1581.14 609.13 L1581.14 651.94 L1584.88 651.94 L1584.88 665.09 L1586 665.09 L1586 655.97 L1590.74 655.97 L1590.74 686.99 L1592.15 686.99 L1592.15 700.19 L1596.45 700.19 L1596.45 757.44 L1598.62 757.44 L1598.62 773.01 L1602.51 773.01 L1602.51 756.35 L1604.03 756.35 L1604.03 775.9 L1607.43 775.9 L1607.43 805.65 L1609.04 805.65 L1609.04 774.77 L1611.28 774.77 L1611.28 783.33 L1616.33 783.33 L1616.33 792.31 L1619.61 792.31 L1619.61 802.31 L1622.43 802.31 L1622.43 811.63 L1626.47 811.63 L1626.47 813.93 L1631.52 813.93 L1631.52 789.85 L1632.85 789.85 L1632.85 819.73 L1635.44 819.73 L1635.44 816.5 L1640.56 816.5 L1640.56 829.2 L1643.51 829.2 L1643.51 824.87 L1645.2 824.87 L1645.2 841.7 L1647.33 841.7 L1647.33 842.83 L1650.79 842.83 L1650.79 849.08 L1653.53 849.08 L1653.53 851.63 L1656.52 851.63 L1656.52 849.28 L1658.58 849.28 L1658.58 847.06 L1661.7 847.06 L1661.7 866.34 L1663.48 866.34 L1663.48 843.16 L1666 843.16 L1666 844.38 L1671.11 844.38 L1671.11 839.96 L1673.77 839.96 L1673.77 835.88 L1676.19 835.88 L1676.19 868.45 L1677.37 868.45 L1677.37 842.86 L1679.46 842.86 L1679.46 876.49 L1680.69 876.49 L1680.69 838.94 L1683.18 838.94 L1683.18 833.1 L1687.8 833.1 L1687.8 853.77 L1689.13 853.77 L1689.13 836.14 L1692.88 836.14 L1692.88 839.09 L1695.96 839.09 L1695.96 834.64 L1699.4 834.64 L1699.4 838.02 L1703.26 838.02 L1703.26 833.43 L1704.86 833.43 L1704.86 833.43 L1708.33 833.43 L1708.33 847.76 L1711.5 847.76 L1711.5 843.51 L1712.88 843.51 L1712.88 856.85 L1717.56 856.85 L1717.56 855.66 L1720.07 855.66 L1720.07 868.55 L1721.75 868.55 L1721.75 860.49 L1726.58 860.49 L1726.58 859.69 L1729.56 859.69 L1729.56 858.68 L1733.13 858.68 L1733.13 867.82 L1734.43 867.82 L1734.43 862.3 L1736.75 862.3 L1736.75 861.3 L1737 861.3 L1737 898.55 L1737 898.35 L1732.01 898.35 L1732.01 896.41 L1729.51 896.41 L1729.51 901.34 L1725.08 901.34 L1725.08 905.61 L1720.81 905.61 L1720.81 904.33 L1717.19 904.33 L1717.19 911.72 L1712.73 911.72 L1712.73 910.69 L1709.86 910.69 L1709.86 907.98 L1704.99 907.98 L1704.99 919.48 L1700.34 919.48 L1700.34 920.93 L1696.63 920.93 L1696.63 923.51 L1694.61 923.51 L1694.61 923.96 L1690.5 923.96 L1690.5 926.87 L1688.42 926.87 L1688.42 917.75 L1686.71 917.75 L1686.71 915.72 L1685.28 915.72 L1685.28 930.74 L1680.51 930.74 L1680.51 933.8 L1676.46 933.8 L1676.46 937.26 L1673.97 937.26 L1673.97 936.21 L1669.74 936.21 L1669.74 931.73 L1667.94 931.73 L1667.94 939.95 L1663.84 939.95 L1663.84 937 L1660.66 937 L1660.66 947.06 L1657.41 947.06 L1657.41 948.74 L1654.81 948.74 L1654.81 939.68 L1653.48 939.68 L1653.48 950.34 L1649.17 950.34 L1649.17 949.49 L1645.98 949.49 L1645.98 947.92 L1643.5 947.92 L1643.5 956.25 L1638.95 956.25 L1638.95 959.74 L1634.72 959.74 L1634.72 962.04 L1630.98 962.04 L1630.98 958.6 L1626.39 958.6 L1626.39 967.19 L1623.62 967.19 L1623.62 968.57 L1620.95 968.57 L1620.95 969.45 L1616.54 969.45 L1616.54 975.43 L1612.74 975.43 L1612.74 976.62 L1608.28 976.62 L1608.28 969.48 L1606.65 969.48 L1606.65 975.37 L1602.4 975.37 L1602.4 983 L1598.6 983 L1598.6 986.17 L1595.73 986.17 L1595.73 987.63 L1591.3 987.63 L1591.3 985.29 L1588.52 985.29 L1588.52 985.91 L1585.11 985.91 L1585.11 994.51 L1582.84 994.51 L1582.84 988.08 L1579.72 988.08 L1579.72 992.2 L1576.18 992.2 L1576.18 997.55 L1572.51 997.55 L1572.51 1000.62 L1567.75 1000.62 L1567.75 996.97 L1565.43 996.97 L1565.43 1000.23 L1563.23 1000.23 L1563.23 1007.67 L1560.72 1007.67 L1560.72 1009.5 L1557.34 1009.5 L1557.34 1006.71 L1553.38 1006.71 L1553.38 1015.24 L1548.43 1015.24 L1548.43 1017.44 L1544.21 1017.44 L1544.21 1018.11 L1541.33 1018.11 L1541.33 1022.03 L1537.4 1022.03 L1537.4 1022.08 L1534.74 1022.08 L1534.74 1019.08 L1531.51 1019.08 L1531.51 1028.49 L1527.15 1028.49 L1527.15 1028.72 L1523.6 1028.72 L1523.6 1027.05 L1520.38 1027.05 L1520.38 1034.7 L1515.4 1034.7 L1515.4 1038.95 L1512.35 1038.95 L1512.35 1036.09 L1508.07 1036.09 L1508.07 1043.16 L1504.79 1043.16 L1504.79 1043.65 L1502.42 1043.65 L1502.42 1045.79 L1498.58 1045.79 L1498.58 1047.2 L1496.32 1047.2 L1496.32 1041.96 L1493.05 1041.96 L1493.05 1051.63 L1489.41 1051.63 L1489.41 1052.16 L1485.46 1052.16 L1485.46 1056.06 L1483.44 1056.06 L1483.44 1057.57 L1479.94 1057.57 L1479.94 1052.54 L1476.9 1052.54 L1476.9 1061.3 L1472.82 1061.3 L1472.82 1064.01 L1470.46 1064.01 L1470.46 1058.39 L1466.73 1058.39 L1466.73 1056.32 L1465.02 1056.32 L1465.02 1069.55 L1461.91 1069.55 L1461.91 1067.95 L1457.63 1067.95 L1457.63 1066.2 L1454.81 1066.2 L1454.81 1075.05 L1450.92 1075.05 L1450.92 1076.44 L1446.89 1076.44 L1446.89 1081.49 L1444.47 1081.49 L1444.47 1082.65 L1441.47 1082.65 L1441.47 1083.41 L1436.69 1083.41 L1436.69 1088.1 L1433.24 1088.1 L1433.24 1088.85 L1431.14 1088.85 L1431.14 1092.06 L1427.12 1092.06 L1427.12 1091.88 L1423.81 1091.88 L1423.81 1087.51 L1421 1087.51 L1421 1097 Z" fill="#0000cc"/>
<rect x="1459.7" y="779" width="2.6" height="290.88" fill="#0000cc"/>
<rect x="1478.7" y="736" width="2.6" height="321.95" fill="#0000cc"/>
<rect x="1522.4" y="507" width="2.6" height="523.5" fill="#0000cc"/>
<rect x="1537.4" y="467" width="2.6" height="554.08" fill="#0000cc"/>
<rect x="1557.1" y="435" width="2.6" height="573.71" fill="#0000cc"/>
<rect x="1688.7" y="821" width="2.6" height="105.07" fill="#0000cc"/>
<rect x="1704.7" y="821" width="2.6" height="95.02" fill="#0000cc"/>
<path d="M1660.5 1122 L1660.5 962.12 L1664.69 962.12 L1664.69 960.39 L1669.24 960.39 L1669.24 993.75 L1670.91 993.75 L1670.91 965.12 L1673.43 965.12 L1673.43 966.42 L1677.44 966.42 L1677.44 958.1 L1681.75 958.1 L1681.75 980.79 L1683.04 980.79 L1683.04 961.24 L1685.2 961.24 L1685.2 953.31 L1686.87 953.31 L1686.87 976.67 L1690.18 976.67 L1690.18 1008.01 L1691.4 1008.01 L1691.4 958.47 L1694.74 958.47 L1694.74 942.39 L1698.61 942.39 L1698.61 955.32 L1699.81 955.32 L1699.81 942.08 L1702.51 942.08 L1702.51 933.38 L1704.23 933.38 L1704.23 941.78 L1706.57 941.78 L1706.57 943.85 L1711.54 943.85 L1711.54 916.42 L1716.52 916.42 L1716.52 885.5 L1720.52 885.5 L1720.52 904.75 L1721.99 904.75 L1721.99 853.14 L1726.05 853.14 L1726.05 884 L1727.56 884 L1727.56 821.6 L1731.21 821.6 L1731.21 845.92 L1732.37 845.92 L1732.37 799.01 L1736.59 799.01 L1736.59 799.61 L1741.14 799.61 L1741.14 831.06 L1742.82 831.06 L1742.82 811.99 L1745.11 811.99 L1745.11 804.23 L1749.07 804.23 L1749.07 820.67 L1750.69 820.67 L1750.69 765.52 L1755.37 765.52 L1755.37 752.07 L1756.79 752.07 L1756.79 758.44 L1760.43 758.44 L1760.43 765.85 L1761.72 765.85 L1761.72 756.53 L1766.8 756.53 L1766.8 762.7 L1768.33 762.7 L1768.33 732.6 L1770.75 732.6 L1770.75 729.49 L1774.36 729.49 L1774.36 707.78 L1775.99 707.78 L1775.99 712.46 L1780.56 712.46 L1780.56 698.11 L1784.92 698.11 L1784.92 688.17 L1788.62 688.17 L1788.62 697.14 L1791.87 697.14 L1791.87 711.17 L1793.43 711.17 L1793.43 708.85 L1797.79 708.85 L1797.79 695.6 L1800.95 695.6 L1800.95 672.68 L1802.09 672.68 L1802.09 699.33 L1804.94 699.33 L1804.94 702.25 L1808.38 702.25 L1808.38 717.69 L1810.09 717.69 L1810.09 726.03 L1814.49 726.03 L1814.49 750.13 L1819.09 750.13 L1819.09 780.4 L1821.96 780.4 L1821.96 762.53 L1823.12 762.53 L1823.12 775.94 L1826.47 775.94 L1826.47 786.22 L1828.47 786.22 L1828.47 790.41 L1830.67 790.41 L1830.67 809.29 L1834.71 809.29 L1834.71 822.32 L1836.06 822.32 L1836.06 842.83 L1838.67 842.83 L1838.67 856.06 L1843.72 856.06 L1843.72 871.43 L1848.12 871.43 L1848.12 873.47 L1852.94 873.47 L1852.94 912.5 L1854.74 912.5 L1854.74 872.31 L1856.94 872.31 L1856.94 855.49 L1858.16 855.49 L1858.16 887.5 L1862.08 887.5 L1862.08 884.89 L1864.71 884.89 L1864.71 892.1 L1869.53 892.1 L1869.53 899.74 L1871.89 899.74 L1871.89 905.8 L1876.53 905.8 L1876.53 904.23 L1878.56 904.23 L1878.56 926.04 L1879.94 926.04 L1879.94 903.73 L1882.03 903.73 L1882.03 908.96 L1883.47 908.96 L1883.47 898.78 L1886.5 898.78 L1886.5 921.2 L1888.13 921.2 L1888.13 901.03 L1891.62 901.03 L1891.62 898.22 L1896.47 898.22 L1896.47 901.51 L1899.95 901.51 L1899.95 900.65 L1902.99 900.65 L1902.99 902.32 L1907.75 902.32 L1907.75 906.95 L1912.36 906.95 L1912.36 903.02 L1916.65 903.02 L1916.65 917.96 L1917.97 917.96 L1917.97 910.35 L1920 910.35 L1920 902.58 L1923.91 902.58 L1923.91 899.37 L1925.33 899.37 L1925.33 904.53 L1928.37 904.53 L1928.37 905.99 L1933.03 905.99 L1933.03 918.96 L1934.23 918.96 L1934.23 896.8 L1939.15 896.8 L1939.15 896.12 L1941.73 896.12 L1941.73 908.6 L1943.18 908.6 L1943.18 893.34 L1945.49 893.34 L1945.49 889.62 L1948.48 889.62 L1948.48 896.35 L1949.73 896.35 L1949.73 888.96 L1952.71 888.96 L1952.71 886.72 L1955.16 886.72 L1955.16 890.91 L1957.86 890.91 L1957.86 890.32 L1960.57 890.32 L1960.57 893.05 L1964.45 893.05 L1964.45 906.84 L1965.77 906.84 L1965.77 894.27 L1969.3 894.27 L1969.3 902.32 L1970.45 902.32 L1970.45 897.29 L1975.04 897.29 L1975.04 897.52 L1976 897.52 L1976 928.28 L1976 928.97 L1973.1 928.97 L1973.1 930.34 L1968.53 930.34 L1968.53 931.46 L1965.91 931.46 L1965.91 932.52 L1962.61 932.52 L1962.61 935.7 L1958.53 935.7 L1958.53 938.07 L1954.06 938.07 L1954.06 941.78 L1950.27 941.78 L1950.27 936.51 L1948.01 936.51 L1948.01 946.41 L1944.46 946.41 L1944.46 946.69 L1939.78 946.69 L1939.78 951.98 L1936.07 951.98 L1936.07 940.73 L1934.81 940.73 L1934.81 952.51 L1929.96 952.51 L1929.96 957.82 L1927.39 957.82 L1927.39 957.36 L1924.61 957.36 L1924.61 958.59 L1922.42 958.59 L1922.42 961.22 L1918.75 961.22 L1918.75 961.76 L1914.69 961.76 L1914.69 964.66 L1910.26 964.66 L1910.26 968.24 L1906.67 968.24 L1906.67 966.33 L1904.57 966.33 L1904.57 971.19 L1902.38 971.19 L1902.38 971.8 L1898.91 971.8 L1898.91 975.44 L1895.58 975.44 L1895.58 966.19 L1894.36 966.19 L1894.36 971.12 L1892.74 971.12 L1892.74 975.67 L1888.49 975.67 L1888.49 981.81 L1886.45 981.81 L1886.45 983.62 L1883.7 983.62 L1883.7 985.73 L1881.05 985.73 L1881.05 986.58 L1877.85 986.58 L1877.85 989.19 L1874.12 989.19 L1874.12 989.48 L1870.45 989.48 L1870.45 993.42 L1868.05 993.42 L1868.05 994.82 L1864.69 994.82 L1864.69 997.16 L1862.46 997.16 L1862.46 997.18 L1859 997.18 L1859 992.24 L1856.74 992.24 L1856.74 994.31 L1855.09 994.31 L1855.09 1003.3 L1851.67 1003.3 L1851.67 1004.05 L1846.68 1004.05 L1846.68 1005.94 L1844.67 1005.94 L1844.67 1008.95 L1840.93 1008.95 L1840.93 1004.41 L1838.18 1004.41 L1838.18 1010.92 L1833.92 1010.92 L1833.92 1015.11 L1831.06 1015.11 L1831.06 1010.59 L1829.83 1010.59 L1829.83 1017.68 L1825.14 1017.68 L1825.14 1022.19 L1821.39 1022.19 L1821.39 1024.63 L1816.84 1024.63 L1816.84 1025.73 L1813.09 1025.73 L1813.09 1015.44 L1811.52 1015.44 L1811.52 1029.84 L1808.87 1029.84 L1808.87 1030.85 L1803.88 1030.85 L1803.88 1032.72 L1801.29 1032.72 L1801.29 1035.84 L1798.71 1035.84 L1798.71 1035.87 L1796.12 1035.87 L1796.12 1038.67 L1791.79 1038.67 L1791.79 1040.62 L1787.35 1040.62 L1787.35 1036.15 L1782.58 1036.15 L1782.58 1047.22 L1780.36 1047.22 L1780.36 1046.6 L1775.72 1046.6 L1775.72 1050.41 L1772.45 1050.41 L1772.45 1052.52 L1768.47 1052.52 L1768.47 1056.17 L1764.07 1056.17 L1764.07 1057.68 L1761.68 1057.68 L1761.68 1050.56 L1759.96 1050.56 L1759.96 1062.19 L1756.3 1062.19 L1756.3 1062.54 L1752.49 1062.54 L1752.49 1065.45 L1747.73 1065.45 L1747.73 1069.39 L1743.82 1069.39 L1743.82 1063.34 L1740.8 1063.34 L1740.8 1070.83 L1736.06 1070.83 L1736.06 1075.43 L1733.61 1075.43 L1733.61 1076.91 L1730.29 1076.91 L1730.29 1080.31 L1726.42 1080.31 L1726.42 1080.25 L1724.31 1080.25 L1724.31 1083.73 L1719.98 1083.73 L1719.98 1084.27 L1717.91 1084.27 L1717.91 1085.73 L1715.24 1085.73 L1715.24 1088.9 L1712.58 1088.9 L1712.58 1088.31 L1710.11 1088.31 L1710.11 1090.09 L1705.47 1090.09 L1705.47 1092.74 L1702.55 1092.74 L1702.55 1088.88 L1698 1088.88 L1698 1097.78 L1695.09 1097.78 L1695.09 1099.74 L1691.76 1099.74 L1691.76 1101.15 L1688.31 1101.15 L1688.31 1098.89 L1684.03 1098.89 L1684.03 1108.38 L1681.76 1108.38 L1681.76 1107.24 L1679.73 1107.24 L1679.73 1110.42 L1675.86 1110.42 L1675.86 1111.74 L1673.33 1111.74 L1673.33 1114.64 L1669.47 1114.64 L1669.47 1110.27 L1666.76 1110.27 L1666.76 1108.55 L1665.47 1108.55 L1665.47 1118.07 L1660.5 1118.07 L1660.5 1122 Z" fill="#ff0000"/>
<rect x="1669.7" y="927" width="2.6" height="186.55" fill="#ff0000"/>
<rect x="1702.7" y="907" width="2.6" height="186.29" fill="#ff0000"/>
<rect x="1722.2" y="826" width="2.6" height="255.32" fill="#ff0000"/>
<rect x="1767.7" y="655" width="2.6" height="398.38" fill="#ff0000"/>
<rect x="1783.2" y="655" width="2.6" height="388.86" fill="#ff0000"/>
<rect x="1803.7" y="667" width="2.6" height="364.28" fill="#ff0000"/>
<rect x="1831.7" y="775" width="2.6" height="239.09" fill="#ff0000"/>
<rect x="1953.3" y="885" width="2.6" height="54.42" fill="#ff0000"/>
<path d="M2019.5 1174 L2019.5 1032.85 L2022.21 1032.85 L2022.21 1018.27 L2025.67 1018.27 L2025.67 992.3 L2026.87 992.3 L2026.87 1035.47 L2031.2 1035.47 L2031.2 1040.92 L2036.02 1040.92 L2036.02 1032.8 L2037.34 1032.8 L2037.34 1013.71 L2041.15 1013.71 L2041.15 1022.31 L2042.51 1022.31 L2042.51 1036.5 L2044.95 1036.5 L2044.95 1058.86 L2047.36 1058.86 L2047.36 1043.13 L2052.02 1043.13 L2052.02 1062.73 L2053.55 1062.73 L2053.55 1010.83 L2056.4 1010.83 L2056.4 1012.61 L2060.66 1012.61 L2060.66 999.19 L2064.91 999.19 L2064.91 997.59 L2068.78 997.59 L2068.78 993.64 L2073.6 993.64 L2073.6 976.19 L2077.71 976.19 L2077.71 977.65 L2081.22 977.65 L2081.22 959.46 L2084.23 959.46 L2084.23 949.95 L2088.11 949.95 L2088.11 944.9 L2092.4 944.9 L2092.4 941.45 L2097.31 941.45 L2097.31 945.57 L2101.61 945.57 L2101.61 930.67 L2105.51 930.67 L2105.51 911.65 L2109.57 911.65 L2109.57 890.56 L2114.43 890.56 L2114.43 873.89 L2119.22 873.89 L2119.22 862.12 L2122.47 862.12 L2122.47 847.84 L2127.52 847.84 L2127.52 842.62 L2130.81 842.62 L2130.81 848.63 L2132.01 848.63 L2132.01 841.91 L2135.21 841.91 L2135.21 834.53 L2136.97 834.53 L2136.97 838.43 L2139.19 838.43 L2139.19 803.29 L2142.83 803.29 L2142.83 793.08 L2144.21 793.08 L2144.21 810 L2146.46 810 L2146.46 799.36 L2148.85 799.36 L2148.85 803.4 L2150.97 803.4 L2150.97 806.77 L2153.4 806.77 L2153.4 807.18 L2158.24 807.18 L2158.24 823.26 L2160.72 823.26 L2160.72 826.97 L2165.45 826.97 L2165.45 812.87 L2166.57 812.87 L2166.57 843.7 L2168.93 843.7 L2168.93 844.89 L2173.09 844.89 L2173.09 871.34 L2174.44 871.34 L2174.44 852.04 L2179.02 852.04 L2179.02 851.58 L2182.92 851.58 L2182.92 878.74 L2187.44 878.74 L2187.44 870.46 L2189.16 870.46 L2189.16 900.38 L2192.35 900.38 L2192.35 908.24 L2197.26 908.24 L2197.26 921.67 L2198.77 921.67 L2198.77 909.57 L2203.31 909.57 L2203.31 900.8 L2207.31 900.8 L2207.31 922.3 L2208.91 922.3 L2208.91 949.07 L2211.68 949.07 L2211.68 950.52 L2214.05 950.52 L2214.05 958.2 L2215.25 958.2 L2215.25 947.5 L2219.56 947.5 L2219.56 933.72 L2220.85 933.72 L2220.85 955.04 L2224.58 955.04 L2224.58 985.1 L2225.98 985.1 L2225.98 952.37 L2230.18 952.37 L2230.18 943.9 L2231.38 943.9 L2231.38 956.78 L2233.68 956.78 L2233.68 986.84 L2234.86 986.84 L2234.86 961.37 L2239.85 961.37 L2239.85 980.56 L2241.19 980.56 L2241.19 959.97 L2243.88 959.97 L2243.88 957.54 L2246.37 957.54 L2246.37 950.86 L2247.76 950.86 L2247.76 960.07 L2251.24 960.07 L2251.24 961.99 L2254.55 961.99 L2254.55 960.04 L2259.13 960.04 L2259.13 960.76 L2263.25 960.76 L2263.25 967.35 L2266.45 967.35 L2266.45 965.65 L2268.52 965.65 L2268.52 964.45 L2270.5 964.45 L2270.5 981.74 L2272.14 981.74 L2272.14 959.3 L2275.39 959.3 L2275.39 954.73 L2276.56 954.73 L2276.56 963.43 L2280.8 963.43 L2280.8 960.98 L2282.3 960.98 L2282.3 967.12 L2286.87 967.12 L2286.87 982.05 L2288.64 982.05 L2288.64 960.1 L2291.28 960.1 L2291.28 957.34 L2293.71 957.34 L2293.71 970.23 L2295.27 970.23 L2295.27 959.56 L2297.37 959.56 L2297.37 972.95 L2299.01 972.95 L2299.01 955.98 L2301.85 955.98 L2301.85 960.84 L2303.46 960.84 L2303.46 947.9 L2306.46 947.9 L2306.46 950.8 L2308.43 950.8 L2308.43 947.87 L2311.28 947.87 L2311.28 947.5 L2313.93 947.5 L2313.93 948.1 L2315.85 948.1 L2315.85 949.97 L2318.49 949.97 L2318.49 946.9 L2321.8 946.9 L2321.8 957.07 L2323.58 957.07 L2323.58 947.36 L2328.61 947.36 L2328.61 946.13 L2333.06 946.13 L2333.06 947.31 L2335 947.31 L2335 976.18 L2335 977.54 L2331.84 977.54 L2331.84 974.39 L2328.74 974.39 L2328.74 973.64 L2325.08 973.64 L2325.08 983.83 L2320.53 983.83 L2320.53 971.45 L2319.22 971.45 L2319.22 981.54 L2315 981.54 L2315 989.54 L2311.54 989.54 L2311.54 989.19 L2306.54 989.19 L2306.54 994.58 L2302.79 994.58 L2302.79 995.91 L2299.64 995.91 L2299.64 998.3 L2294.84 998.3 L2294.84 1002.42 L2290.06 1002.42 L2290.06 997.97 L2288.67 997.97 L2288.67 1003.81 L2285.18 1003.81 L2285.18 993.4 L2283.71 993.4 L2283.71 992.81 L2282.05 992.81 L2282.05 1009.16 L2279.61 1009.16 L2279.61 1009.48 L2276.17 1009.48 L2276.17 1011.29 L2273.6 1011.29 L2273.6 1014.28 L2269.6 1014.28 L2269.6 1018.29 L2267.25 1018.29 L2267.25 1015.35 L2263.9 1015.35 L2263.9 1019.32 L2261.47 1019.32 L2261.47 1022.82 L2258.93 1022.82 L2258.93 1024.07 L2253.97 1024.07 L2253.97 1020.01 L2251.39 1020.01 L2251.39 1022.27 L2249.2 1022.27 L2249.2 1029.71 L2246.63 1029.71 L2246.63 1025.28 L2245.19 1025.28 L2245.19 1032.09 L2241.95 1032.09 L2241.95 1035.22 L2238.71 1035.22 L2238.71 1024.36 L2237.18 1024.36 L2237.18 1037.65 L2233.9 1037.65 L2233.9 1040.03 L2229.71 1040.03 L2229.71 1043.1 L2225.14 1043.1 L2225.14 1039.41 L2221.8 1039.41 L2221.8 1048.08 L2217.38 1048.08 L2217.38 1050.73 L2212.41 1050.73 L2212.41 1039.54 L2210.74 1039.54 L2210.74 1050.62 L2208.46 1050.62 L2208.46 1054.25 L2206.05 1054.25 L2206.05 1055.84 L2202.17 1055.84 L2202.17 1055.96 L2200.12 1055.96 L2200.12 1060.45 L2195.58 1060.45 L2195.58 1062.81 L2192.04 1062.81 L2192.04 1058.48 L2187.51 1058.48 L2187.51 1067.31 L2184.96 1067.31 L2184.96 1063.69 L2181.19 1063.69 L2181.19 1072.71 L2178.89 1072.71 L2178.89 1060.22 L2177.14 1060.22 L2177.14 1075.45 L2174.4 1075.45 L2174.4 1075.29 L2169.86 1075.29 L2169.86 1073.22 L2166.87 1073.22 L2166.87 1080.77 L2164.39 1080.77 L2164.39 1081.5 L2160.88 1081.5 L2160.88 1070.18 L2159.26 1070.18 L2159.26 1085.74 L2154.35 1085.74 L2154.35 1089.41 L2150.14 1089.41 L2150.14 1087.16 L2146.69 1087.16 L2146.69 1093.07 L2142.08 1093.07 L2142.08 1095.42 L2139.09 1095.42 L2139.09 1095.64 L2136.17 1095.64 L2136.17 1098.86 L2132.73 1098.86 L2132.73 1103.3 L2129.9 1103.3 L2129.9 1104.68 L2125.2 1104.68 L2125.2 1106.97 L2122.04 1106.97 L2122.04 1108.22 L2119.05 1108.22 L2119.05 1111.77 L2114.88 1111.77 L2114.88 1115.48 L2110.46 1115.48 L2110.46 1104.63 L2109.16 1104.63 L2109.16 1117.38 L2104.42 1117.38 L2104.42 1122.06 L2099.65 1122.06 L2099.65 1122.73 L2096.05 1122.73 L2096.05 1126.1 L2091.49 1126.1 L2091.49 1118.9 L2090.26 1118.9 L2090.26 1114.8 L2088.63 1114.8 L2088.63 1114.81 L2087.06 1114.81 L2087.06 1131.63 L2084.38 1131.63 L2084.38 1134.81 L2082.34 1134.81 L2082.34 1134.78 L2079.99 1134.78 L2079.99 1134.84 L2074.99 1134.84 L2074.99 1140.43 L2070.33 1140.43 L2070.33 1143.34 L2066.98 1143.34 L2066.98 1144.25 L2062.89 1144.25 L2062.89 1147.09 L2059.33 1147.09 L2059.33 1137.74 L2058.02 1137.74 L2058.02 1149.61 L2055.08 1149.61 L2055.08 1151.01 L2051.99 1151.01 L2051.99 1152.41 L2047.79 1152.41 L2047.79 1151.22 L2045.05 1151.22 L2045.05 1157.98 L2040.2 1157.98 L2040.2 1161.46 L2037.22 1161.46 L2037.22 1162.21 L2033.18 1162.21 L2033.18 1163.43 L2028.2 1163.43 L2028.2 1168.78 L2024.26 1168.78 L2024.26 1170.08 L2020.58 1170.08 L2020.58 1172.48 L2019.5 1172.48 L2019.5 1174 Z" fill="#0000cc"/>
<rect x="2024.4" y="1012" width="2.6" height="156.11" fill="#0000cc"/>
<rect x="2092.7" y="925" width="2.6" height="200.29" fill="#0000cc"/>
<rect x="2146.7" y="755" width="2.6" height="336.43" fill="#0000cc"/>
<rect x="2177.7" y="833" width="2.6" height="238.99" fill="#0000cc"/>
<line x1="1960.0" y1="1214.0" x2="2335.5" y2="973" stroke="#222" stroke-width="1.8"/>
<line x1="167.0" y1="995.0" x2="1960.0" y2="1214.0" stroke="#000" stroke-width="4.8" stroke-linecap="round"/>
<line x1="165" y1="341" x2="165" y2="690" stroke="#000" stroke-width="4.6"/>
<line x1="166.4" y1="688" x2="166.4" y2="998" stroke="#000" stroke-width="4.6"/>
<path d="M165 526.5 L149 525.5 L130 521.5" stroke="#000" stroke-width="3.6" fill="none" stroke-linecap="round"/>
<path d="M166 760 L149 759 L129 755" stroke="#000" stroke-width="3.6" fill="none" stroke-linecap="round"/>
<path d="M1960 1214 L2140 1237.5" stroke="#000" stroke-width="4.6" fill="none" stroke-linecap="round"/>
<path d="M2101 1214.5 L2141 1237.5 L2074 1248" stroke="#000" stroke-width="4.6" fill="none" stroke-linecap="round" stroke-linejoin="round"/>
<path d="M615.25 1049.75 l-6 4 l-10 7" stroke="#000" stroke-width="3.6" fill="none" stroke-linecap="round"/>
<path d="M1063.5 1104.5 l-6 4 l-10 7" stroke="#000" stroke-width="3.6" fill="none" stroke-linecap="round"/>
<path d="M1511.75 1159.25 l-6 4 l-10 7" stroke="#000" stroke-width="3.6" fill="none" stroke-linecap="round"/>
<path d="M1960 1214 l-6 4 l-10 7" stroke="#000" stroke-width="3.6" fill="none" stroke-linecap="round"/>
<line x1="276.0" y1="42.0" x2="276.0" y2="463.0" stroke="#777" stroke-width="3"/>
<path d="M276.0 463 h21.5 M276.0 440.3 h10.5 M276.0 417.6 h10.5 M276.0 394.9 h10.5 M276.0 372.2 h10.5 M276.0 349.5 h21.5 M276.0 326.8 h10.5 M276.0 304.1 h10.5 M276.0 281.4 h10.5 M276.0 258.7 h10.5 M276.0 236 h21.5 M276.0 213.3 h10.5 M276.0 190.6 h10.5 M276.0 167.9 h10.5 M276.0 145.2 h10.5 M276.0 122.5 h21.5 M276.0 99.8 h10.5 M276.0 77.1 h10.5 M276.0 54.4 h10.5" stroke="#1a1a1a" stroke-width="3" fill="none"/>
<path d="M276 463 L276 348.47 L277.93 348.47 L277.93 347.63 L281.97 347.63 L281.97 346.73 L284.49 346.73 L284.49 353.3 L288.03 353.3 L288.03 347.85 L290.8 347.85 L290.8 354.39 L293.97 354.39 L293.97 355.04 L297.42 355.04 L297.42 367.38 L300.7 367.38 L300.7 371.66 L302.53 371.66 L302.53 373.4 L304.75 373.4 L304.75 366.7 L307.58 366.7 L307.58 380.96 L309.34 380.96 L309.34 360.29 L312.03 360.29 L312.03 338.35 L313.46 338.35 L313.46 346.15 L315.76 346.15 L315.76 343.99 L317.8 343.99 L317.8 342.03 L320.64 342.03 L320.64 378.32 L322.32 378.32 L322.32 347.69 L324.71 347.69 L324.71 347.64 L328.34 347.64 L328.34 368.98 L329.73 368.98 L329.73 348.86 L332.78 348.86 L332.78 345.91 L335.99 345.91 L335.99 343.61 L339 343.61 L339 382.9 L340.29 382.9 L340.29 339.56 L344.21 339.56 L344.21 335.67 L347.86 335.67 L347.86 337.92 L351.33 337.92 L351.33 322.24 L352.66 322.24 L352.66 328.35 L357 328.35 L357 338.81 L360.49 338.81 L360.49 319.83 L361.97 319.83 L361.97 339.31 L365.61 339.31 L365.61 329 L369.1 329 L369.1 312.1 L372.44 312.1 L372.44 293.96 L373.88 293.96 L373.88 310.5 L376.72 310.5 L376.72 311.45 L378.97 311.45 L378.97 312.29 L382.64 312.29 L382.64 316.27 L386.97 316.27 L386.97 304.29 L388.37 304.29 L388.37 307.08 L390.82 307.08 L390.82 302.52 L394.93 302.52 L394.93 263.99 L396.76 263.99 L396.76 294.67 L398.39 294.67 L398.39 249.73 L401.91 249.73 L401.91 252.56 L404.34 252.56 L404.34 255.58 L408.82 255.58 L408.82 262.56 L411.68 262.56 L411.68 260.76 L413.59 260.76 L413.59 269.34 L417.17 269.34 L417.17 267.02 L420.85 267.02 L420.85 250.45 L422.05 250.45 L422.05 223.46 L425.45 223.46 L425.45 234.08 L428.95 234.08 L428.95 234.85 L430.81 234.85 L430.81 237.1 L433.93 237.1 L433.93 243.71 L437.52 243.71 L437.52 246.8 L439.4 246.8 L439.4 243.67 L443.51 243.67 L443.51 215.84 L447.37 215.84 L447.37 196.95 L448.53 196.95 L448.53 247.36 L450.38 247.36 L450.38 239.28 L452.99 239.28 L452.99 229.92 L454.99 229.92 L454.99 228.44 L459.45 228.44 L459.45 262.22 L460.76 262.22 L460.76 217.12 L463.26 217.12 L463.26 229.48 L466.69 229.48 L466.69 246 L470.77 246 L470.77 252.18 L473.78 252.18 L473.78 258.47 L478.19 258.47 L478.19 265.21 L482.47 265.21 L482.47 298.13 L483.6 298.13 L483.6 275.77 L487.67 275.77 L487.67 256.25 L489.46 256.25 L489.46 277.74 L493.9 277.74 L493.9 282.45 L497.97 282.45 L497.97 303.7 L499.3 303.7 L499.3 328.68 L502.45 328.68 L502.45 323.84 L505.89 323.84 L505.89 322.13 L509.89 322.13 L509.89 323.4 L513.76 323.4 L513.76 343.28 L515.12 343.28 L515.12 331.7 L518.87 331.7 L518.87 345.88 L520.11 345.88 L520.11 311.53 L522.35 311.53 L522.35 314.54 L524.22 314.54 L524.22 333.93 L525.84 333.93 L525.84 364.27 L530.29 364.27 L530.29 366.46 L534.7 366.46 L534.7 357.17 L537.51 357.17 L537.51 349.85 L540.97 349.85 L540.97 367.57 L542.65 367.57 L542.65 359.53 L545.22 359.53 L545.22 368.19 L547.28 368.19 L547.28 370.96 L551.02 370.96 L551.02 360.52 L552.56 360.52 L552.56 373.89 L557 373.89 L557 381.37 L561.08 381.37 L561.08 390.2 L563.47 390.2 L563.47 409.86 L564.93 409.86 L564.93 392.4 L567.33 392.4 L567.33 393.83 L571.03 393.83 L571.03 396.14 L573.18 396.14 L573.18 393.08 L575.51 393.08 L575.51 385.77 L578.18 385.77 L578.18 386.81 L581.98 386.81 L581.98 391.04 L584.81 391.04 L584.81 405.52 L587.25 405.52 L587.25 405.76 L591.44 405.76 L591.44 404.31 L594.23 404.31 L594.23 395.39 L595.9 395.39 L595.9 410.52 L599.66 410.52 L599.66 411.57 L601.45 411.57 L601.45 410.05 L604.4 410.05 L604.4 414.66 L606.43 414.66 L606.43 426.91 L607.6 426.91 L607.6 415.95 L609.75 415.95 L609.75 416.21 L614.18 416.21 L614.18 418.93 L617.37 418.93 L617.37 421.2 L619.77 421.2 L619.77 422.25 L623.59 422.25 L623.59 423.61 L625.97 423.61 L625.97 424.51 L630.1 424.51 L630.1 420.8 L633.81 420.8 L633.81 415.11 L635.35 415.11 L635.35 422.92 L637.59 422.92 L637.59 428.36 L639.24 428.36 L639.24 421.86 L643.41 421.86 L643.41 414.49 L645.13 414.49 L645.13 423.47 L647.67 423.47 L647.67 424.27 L651.05 424.27 L651.05 424.14 L652.83 424.14 L652.83 427.56 L655.2 427.56 L655.2 427.48 L657.44 427.48 L657.44 427.22 L659.49 427.22 L659.49 429.73 L661.67 429.73 L661.67 422.86 L662.9 422.86 L662.9 432.89 L666.02 432.89 L666.02 440.05 L667.14 440.05 L667.14 436.24 L669.5 436.24 L669.5 436.52 L671.68 436.52 L671.68 430.61 L673.33 430.61 L673.33 436.47 L676.34 436.47 L676.34 438.6 L677.56 438.6 L677.56 437.03 L679.52 437.03 L679.52 438.01 L681.67 438.01 L681.67 435.58 L683.42 435.58 L683.42 436.99 L687.24 436.99 L687.24 438.41 L691.69 438.41 L691.69 440.78 L695.35 440.78 L695.35 448.24 L696.88 448.24 L696.88 442.72 L699.44 442.72 L699.44 442.37 L702.97 442.37 L702.97 442.68 L707.33 442.68 L707.33 444.05 L708.54 444.05 L708.54 443.86 L712.33 443.86 L712.33 444.37 L715.57 444.37 L715.57 441.88 L717.15 441.88 L717.15 445.33 L719.43 445.33 L719.43 450.06 L720.79 450.06 L720.79 446.43 L722.71 446.43 L722.71 446.33 L727 446.33 L727 447.27 L731.06 447.27 L731.06 452.43 L732.73 452.43 L732.73 447 L736.42 447 L736.42 445.11 L738.49 445.11 L738.49 444.82 L742.55 444.82 L742.55 447.14 L744.79 447.14 L744.79 447.8 L747.06 447.8 L747.06 452.2 L748.78 452.2 L748.78 448.77 L751.03 448.77 L751.03 448.88 L752.72 448.88 L752.72 450.39 L753 450.39 L753 463 L276 463 L276 463 Z" fill="#000"/>
<rect x="314.7" y="317" width="2.6" height="144" fill="#000"/>
<rect x="306.7" y="342" width="2.6" height="119" fill="#000"/>
<rect x="347.7" y="317" width="2.6" height="144" fill="#000"/>
<rect x="354.7" y="315" width="2.6" height="146" fill="#000"/>
<rect x="362.7" y="299" width="2.6" height="162" fill="#000"/>
<rect x="369.5" y="278" width="2.6" height="183" fill="#000"/>
<rect x="375.2" y="290" width="2.6" height="171" fill="#000"/>
<rect x="387.7" y="267" width="2.6" height="194" fill="#000"/>
<rect x="408.3" y="223" width="2.6" height="238" fill="#000"/>
<rect x="410.7" y="242" width="2.6" height="219" fill="#000"/>
<rect x="423.2" y="210" width="2.6" height="251" fill="#000"/>
<rect x="432.3" y="198" width="2.6" height="263" fill="#000"/>
<rect x="440" y="42" width="2.6" height="419" fill="#000"/>
<rect x="446" y="205" width="2.6" height="256" fill="#000"/>
<rect x="457.5" y="200.6" width="2.6" height="260.4" fill="#000"/>
<rect x="481.5" y="246" width="2.6" height="215" fill="#000"/>
<rect x="505.4" y="306" width="2.6" height="155" fill="#000"/>
<rect x="522.6" y="303.4" width="2.6" height="157.6" fill="#000"/>
<rect x="537.4" y="342" width="2.6" height="119" fill="#000"/>
<rect x="582" y="383.3" width="2.6" height="77.7" fill="#000"/>
<rect x="695.1" y="433.6" width="2.6" height="27.4" fill="#000"/>
<rect x="741.9" y="438.2" width="2.6" height="22.8" fill="#000"/>
<line x1="276.0" y1="463.0" x2="753.0" y2="463.0" stroke="#000" stroke-width="3"/>
<text x="274.3" y="137.7" font-family="'Liberation Sans', Arial, sans-serif" font-size="44" fill="#1a1a1a" text-anchor="end">15</text>
<text x="274.3" y="251.2" font-family="'Liberation Sans', Arial, sans-serif" font-size="44" fill="#1a1a1a" text-anchor="end">10</text>
<text x="274.3" y="364.7" font-family="'Liberation Sans', Arial, sans-serif" font-size="44" fill="#1a1a1a" text-anchor="end">5</text>
<text x="274.3" y="478.2" font-family="'Liberation Sans', Arial, sans-serif" font-size="44" fill="#1a1a1a" text-anchor="end">0</text>
<text x="276" y="498.5" font-family="'Liberation Sans', Arial, sans-serif" font-size="44" fill="#1a1a1a" text-anchor="middle">200</text>
<text x="395.25" y="498.5" font-family="'Liberation Sans', Arial, sans-serif" font-size="44" fill="#1a1a1a" text-anchor="middle">400</text>
<text x="514.5" y="498.5" font-family="'Liberation Sans', Arial, sans-serif" font-size="44" fill="#1a1a1a" text-anchor="middle">600</text>
<text x="633.75" y="498.5" font-family="'Liberation Sans', Arial, sans-serif" font-size="44" fill="#1a1a1a" text-anchor="middle">800</text>
<text x="753" y="498.5" font-family="'Liberation Sans', Arial, sans-serif" font-size="44" fill="#1a1a1a" text-anchor="middle">1000</text>
<text y="547" font-family="'Liberation Serif', 'Times New Roman', serif" font-size="57" fill="#000"><tspan x="415" font-style="italic">f</tspan><tspan x="449.7">[Hz]</tspan></text>
<text transform="translate(217 318.3) rotate(-90)" font-family="'Liberation Serif', 'Times New Roman', serif" font-size="56" fill="#000"><tspan font-style="italic">A</tspan> [Pa]</text>
<text x="450.7" y="76.7" font-family="'Liberation Sans', Arial, sans-serif" font-size="54" font-weight="bold" fill="#000">478Hz</text>
<text x="1424" y="177" font-family="'Liberation Serif', 'Times New Roman', serif" font-size="60.6" font-weight="bold" fill="#000">Characteristic Frequency: 478Hz</text>
<ellipse cx="282.5" cy="595.3" rx="32.3" ry="31.2" fill="none" stroke="#000" stroke-width="3.6"/>
<text x="281.5" y="612.1" font-family="'Liberation Serif', 'Times New Roman', serif" font-size="59" font-weight="bold" text-anchor="middle" fill="#000">1</text>
<ellipse cx="640" cy="656" rx="32.3" ry="31.2" fill="none" stroke="#000" stroke-width="3.6"/>
<text x="639" y="672.8" font-family="'Liberation Serif', 'Times New Roman', serif" font-size="59" font-weight="bold" text-anchor="middle" fill="#000">2</text>
<ellipse cx="893.5" cy="595.6" rx="32.3" ry="31.2" fill="none" stroke="#000" stroke-width="3.6"/>
<text x="892.5" y="612.4" font-family="'Liberation Serif', 'Times New Roman', serif" font-size="59" font-weight="bold" text-anchor="middle" fill="#000">3</text>
<ellipse cx="1108" cy="203.5" rx="32.3" ry="31.2" fill="none" stroke="#000" stroke-width="3.6"/>
<text x="1107" y="220.3" font-family="'Liberation Serif', 'Times New Roman', serif" font-size="59" font-weight="bold" text-anchor="middle" fill="#000">4</text>
<ellipse cx="1245" cy="74.6" rx="32.3" ry="31.2" fill="none" stroke="#000" stroke-width="3.6"/>
<text x="1244" y="91.4" font-family="'Liberation Serif', 'Times New Roman', serif" font-size="59" font-weight="bold" text-anchor="middle" fill="#000">5</text>
<ellipse cx="1616" cy="443" rx="32.3" ry="31.2" fill="none" stroke="#000" stroke-width="3.6"/>
<text x="1615" y="459.8" font-family="'Liberation Serif', 'Times New Roman', serif" font-size="59" font-weight="bold" text-anchor="middle" fill="#000">6</text>
<ellipse cx="1859.5" cy="666" rx="32.3" ry="31.2" fill="none" stroke="#000" stroke-width="3.6"/>
<text x="1858.5" y="682.8" font-family="'Liberation Serif', 'Times New Roman', serif" font-size="59" font-weight="bold" text-anchor="middle" fill="#000">7</text>
<ellipse cx="2196" cy="767" rx="32.3" ry="31.2" fill="none" stroke="#000" stroke-width="3.6"/>
<text x="2195" y="783.8" font-family="'Liberation Serif', 'Times New Roman', serif" font-size="59" font-weight="bold" text-anchor="middle" fill="#000">8</text>
<line x1="1211" y1="72.4" x2="700" y2="250.5" stroke="#000" stroke-width="7.5" stroke-dasharray="28.6 18.6"/>
<polygon points="683.8,256.2 706,233 716,260" fill="#000"/>
<text transform="translate(80 802.5) rotate(-90) scale(0.8 1)" x="5.3 70.1 104" font-family="'Liberation Serif', 'Times New Roman', serif" font-size="97" font-style="italic" fill="#000">A/A</text>
<text transform="translate(94 658) rotate(-90)" font-family="'Liberation Serif', 'Times New Roman', serif" font-size="62" font-style="italic" fill="#000">max</text>
<text transform="translate(121 558.4) rotate(-90) scale(1.2 1)" y="0" font-family="'Liberation Sans', Arial, sans-serif" font-size="48" fill="#000"><tspan x="-1.87">0</tspan><tspan x="29.47" font-size="80" font-family="'Liberation Serif', 'Times New Roman', serif">.</tspan><tspan x="51.41">5</tspan></text>
<text transform="translate(117.5 821.7) rotate(-90) scale(1.2 1)" y="0" font-family="'Liberation Sans', Arial, sans-serif" font-size="48" fill="#000"><tspan x="-1.87">0</tspan><tspan x="29.97" font-size="80" font-family="'Liberation Serif', 'Times New Roman', serif">.</tspan><tspan x="49.93">2</tspan><tspan x="78.08">5</tspan></text>
<text transform="translate(144 1046) rotate(7) scale(1.2 1)" y="0" font-family="'Liberation Sans', Arial, sans-serif" font-size="48" fill="#000"><tspan x="-1.87">0</tspan></text>
<text transform="translate(563.6 1107) rotate(7) scale(1.2 1)" y="0" font-family="'Liberation Sans', Arial, sans-serif" font-size="48" fill="#000"><tspan x="-1.87">0</tspan><tspan x="28.89" font-size="80" font-family="'Liberation Serif', 'Times New Roman', serif">.</tspan><tspan x="48.77">2</tspan><tspan x="76.58">5</tspan></text>
<text transform="translate(1013.7 1161.3) rotate(7) scale(1.2 1)" y="0" font-family="'Liberation Sans', Arial, sans-serif" font-size="48" fill="#000"><tspan x="-1.87">0</tspan><tspan x="28.64" font-size="80" font-family="'Liberation Serif', 'Times New Roman', serif">.</tspan><tspan x="50">5</tspan></text>
<text transform="translate(1456.4 1215.3) rotate(7) scale(1.2 1)" y="0" font-family="'Liberation Sans', Arial, sans-serif" font-size="48" fill="#000"><tspan x="-1.87">0</tspan><tspan x="29.22" font-size="80" font-family="'Liberation Serif', 'Times New Roman', serif">.</tspan><tspan x="52.39">7</tspan><tspan x="75.25">5</tspan></text>
<text transform="translate(1944 1267) rotate(7) scale(1.2 1)" y="0" font-family="'Liberation Sans', Arial, sans-serif" font-size="48" fill="#000"><tspan x="-3.65">1</tspan></text>
<text x="1030" y="1266" font-family="'Liberation Serif', 'Times New Roman', serif" font-size="100" font-style="italic" fill="#000">y/t</text>
<text transform="translate(424 729) rotate(-33)" font-family="'Liberation Serif', 'Times New Roman', serif" font-size="59" fill="#000"><tspan font-style="italic">f</tspan> [Hz]</text>
</svg>
</body></html>
